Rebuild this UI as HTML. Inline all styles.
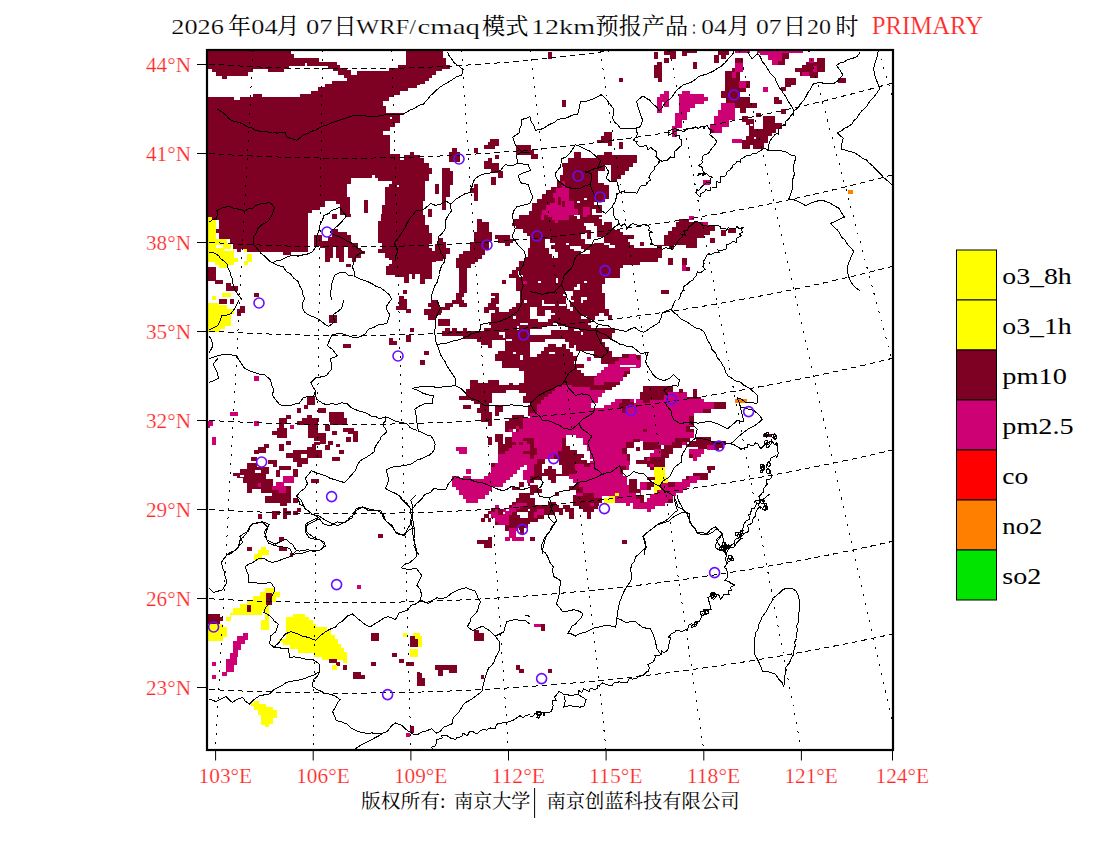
<!DOCTYPE html>
<html><head><meta charset="utf-8"><title>WRF/cmaq PRIMARY</title>
<style>
html,body{margin:0;padding:0;background:#fff;}
body{width:1100px;height:850px;overflow:hidden;font-family:"Liberation Serif","Noto Serif CJK SC",serif;}
svg{display:block}
text{font-family:"Liberation Serif","Noto Serif CJK SC",serif;}
</style></head><body>
<svg width="1100" height="850" viewBox="0 0 1100 850">
<rect width="1100" height="850" fill="#fff"/>
<defs><clipPath id="mapclip"><rect x="207" y="50" width="685" height="699"/></clipPath></defs>
<g clip-path="url(#mapclip)" shape-rendering="crispEdges">
<path fill="#7E0023" d="M200,45L420,45L420,215L200,215Z"/>
<path fill="#FFFFFF" d="M291,49L291,54L294,54L294,58L319,58L319,62L337,62L337,65L340,65L340,68L347,68L347,70L351,70L351,74.6L357,74.6L357,70.6L389,70.6L389,68L398,68L398,65L406,65L406,49ZM206,68.6L212.4,68.6L212.4,72L216,72L216,76L222,76L222,78.6L227,78.6L227,76L248,76L248,72L253,72L253,69L268,69L268,71.6L284,71.6L284,69L289,69L289,66L305,66L305,63L307,63L307,66L328,66L328,68.6L333,68.6L333,71L338,71L338,75.4L344,75.4L344,78L350,78L347,78L347,81L332,81L332,84L325,84L325,87.4L318,87.4L318,91L311,91L311,94L300,94L300,97L262,97L262,94L253,94L253,97L240,97L240,100L234,100L234,97L206,97ZM420,85L417,85L417,88L408,88L408,91.4L400,91.4L400,94.6L393,94.6L393,97.4L389,97.4L389,101L383,101L383,106L386,106L386,113L404,113L404,115L400,115L400,123L395,123L395,127L390,127L390,131L383,131L383,135L390,135L390,154L400,154L400,160L404,160L404,155L410,155L410,152L414,152L414,155L420,155ZM390,117L392,117L392,119L390,119ZM397,185L399,185L399,187L397,187ZM351,178L372,178L372,175L375,175L375,178L378,178L378,181L392,181L392,184L389,184L389,187L385,187L385,205L382,205L382,215L350,215L350,197L347,197L347,184L351,184Z"/>
<path fill="#7E0023" d="M364,200L367.6,200L367.6,213L364,213Z"/>
<path fill="#FFFFFF" d="M325,201L336,201L336,204L340,204L340,215L308,215L308,213L312,213L312,210L320,210L320,207L325,207ZM420,45L640,45L640,215L420,215Z"/>
<path fill="#7E0023" d="M420,49L443,49L443,58L446,58L446,65L450,65L450,68.6L442,68.6L442,70.6L436,70.6L436,75L432.4,75L432.4,78L429,78L429,81L425,81L425,84L420,84ZM420,158L424,158L424,163L429,163L429,168L432,168L432,174L429,174L429,181L425,181L425,201L423,201L423,215L420,215ZM442,168L450,168L450,171L453,171L453,185L450,185L450,197L446,197L446,210L442,210ZM435,184L439,184L439,194L435,194ZM428,209L432,209L432,215L428,215ZM452,148L457,148L457,152L460,152L460,162L449,162L449,152L452,152ZM474,148L478,148L478,153L474,153ZM490,139L499,139L499,146L495,146L495,149L484,149L484,145L488,145L488,142L490,142ZM495,154.6L499,154.6L499,159L495,159ZM488,158L492,158L492,163L499,163L499,170.6L503,170.6L503,178L498,178L498,173L491,173L491,169L484,169L484,161L488,161ZM491,176.6L496,176.6L496,184.6L491,184.6ZM474,184L478,184L478,201L474,201L474,193L470,193L470,188L474,188ZM516,145L531,145L531,150L534,150L534,154L538,154L538,158.6L531,158.6L531,155L516,155ZM548,52L552,52L552,58.6L548,58.6ZM619,78L623,78L623,82L619,82ZM562,100L566,100L566,107.4L562,107.4ZM604,132L612,132L612,146L608,146L608,143L597,143L597,140L601,140L601,136L604,136ZM619,142L623,142L623,148.6L619,148.6ZM574,152L581,152L581,158L597,158L597,155L604,155L604,152L612,152L612,155L637,155L637,163L633,163L633,167L629,167L629,171L625,171L625,175L621,175L621,179L617,179L617,181L611,181L611,165L605,165L605,171L598,171L598,183L604,183L604,185L609,185L609,199L605,199L605,202L594,202L594,205L602,205L602,213L596,213L596,209L592,209L592,215L529,215L529,211L532,211L532,203L537,203L537,199L542,199L542,194L546,194L546,190L551,190L551,187L557,187L557,181L560,181L560,175L563,175L563,167L562,167L562,163L568,163L568,158L574,158Z"/>
<path fill="#CD0074" d="M542,215L542,210L546,210L546,205L550,205L550,199L553,199L553,193L556,193L556,188L562,188L562,181L565,181L565,188L569,188L569,201L574,201L574,209L578,209L578,215ZM583,207L590,207L590,215L583,215Z"/>
<path fill="#7E0023" d="M550,198L555,198L555,203L550,203ZM558,197L561,197L561,205L558,205ZM562,201L565,201L565,207L562,207Z"/>
<path fill="#FFFFFF" d="M577,201L580,201L580,203L577,203ZM584,198L587,198L587,200L584,200ZM640,45L860,45L860,215L640,215Z"/>
<path fill="#7E0023" d="M654,52L658,52L658,59L654,59ZM664,49L676,49L676,58.6L670,58.6L670,55L664,55ZM664,58L669,58L669,63L664,63ZM682,49L697,49L697,53L687,53L687,56L682,56ZM657,62L662,62L662,82L658,82L658,78L654,78L654,65L657,65ZM693,62L697,62L697,69L693,69ZM714,54.6L719,54.6L719,62.6L714,62.6ZM718,49L729,49L729,55L726,55L726,58.6L721,58.6L721,54.6L718,54.6ZM735,58L743,58L743,72L740,72L740,81L750,81L750,88L746,88L746,92L740,92L740,97.4L750,97.4L750,103L757,103L757,108L746,108L746,113L740,113L740,108L735,108L735,103L726,103L726,98L721,98L721,91L725,91L725,71L732,71L732,68L735,68Z"/>
<path fill="#CD0074" d="M735,63L743,63L743,72L735,72ZM732,72L736,72L736,78L732,78ZM739,81L746,81L746,88L739,88ZM721,103L735,103L735,120L729,120L729,127L722,127L722,133L710,133L710,124L714,124L714,116L718,116L718,110L721,110Z"/>
<path fill="#7E0023" d="M710,130L714,130L714,133L710,133Z"/>
<path fill="#CD0074" d="M763,87L768,87L768,92L763,92Z"/>
<path fill="#7E0023" d="M774,97L779,97L779,100L782,100L782,104L774,104ZM781,109.4L786,109.4L786,114L781,114ZM756,113L761,113L761,116.6L756,116.6ZM785,78L796,78L796,85L791,85L791,87L786,87L786,91.4L781,91.4L781,87L785,87ZM806,62L817,62L817,58L825,58L825,72L818,72L818,78L810,78L810,76L800,76L800,72L795,72L795,68L802,68L802,65L806,65Z"/>
<path fill="#CD0074" d="M809,58L814,58L814,63L809,63ZM813,66L817,66L817,72L813,72ZM802,72L809,72L809,76L802,76Z"/>
<path fill="#7E0023" d="M838,78L846,78L846,82.6L838,82.6Z"/>
<path fill="#CD0074" d="M735,49L750,49L750,53L735,53ZM757,49L803,49L803,53L789,53L789,59L785,59L785,65L772,65L772,60L768,60L768,55L760,55L760,53L757,53Z"/>
<path fill="#7E0023" d="M782,53L789,53L789,59L785,59L785,65L778,65L778,61L782,61ZM742,116L748,116L748,119L754,119L754,129L763,129L763,116L775,116L775,123L782,123L782,129L776,129L776,133L772,133L772,136L768,136L768,143L764,143L764,149L753,149L753,145L750,145L750,149L742,149L742,143L739,143L739,140L746,140L746,136L749,136L749,125L746,125L746,122L742,122Z"/>
<path fill="#FFFFFF" d="M750,124L753,124L753,126L750,126ZM754,137L756,137L756,139L754,139Z"/>
<path fill="#CD0074" d="M732,139L742,139L742,143L732,143ZM703,180L710,180L710,185L703,185Z"/>
<path fill="#FF7F00" d="M848,190L853,190L853,194L848,194Z"/>
<path fill="#CD0074" d="M664,91L669,91L669,107L664,107L664,102L662,102L662,113L657,113L657,97L660,97L660,94L664,94ZM682,91L690,91L690,94L704,94L704,97L708,97L708,101L704,101L704,104L695,104L695,108L690,108L690,112L687,112L687,120L682,120L682,128L677,128L677,137L672,137L672,126L675,126L675,113L679,113L679,94L682,94Z"/>
<path fill="#FFFFFF" d="M200,215L420,215L420,385L200,385Z"/>
<path fill="#7E0023" d="M208,214L308,214L308,251.5L291,251.5L291,254.5L283,254.5L283,251.5L247,251.5L247,249L241,249L241,251.5L237,251.5L237,248.5L232.5,248.5L232.5,244L230,244L230,238.5L219,238.5L219,233L215,233L215,229L219,229L219,219.5L208,219.5Z"/>
<path fill="#FFFF00" d="M208,217L212,217L212,220L216,220L216,239L227,239L227,244L231,244L231,248.5L234,248.5L234,258L238,258L238,261.5L234,261.5L234,264.5L227,264.5L227,267.5L219,267.5L219,264.5L215,264.5L215,262L208,262Z"/>
<path fill="#FFFFFF" d="M216,245L223,245L223,248L216,248ZM223.5,249L233,249L233,251L223.5,251Z"/>
<path fill="#FFFF00" d="M244,249L247,249L247,251.5L244,251.5ZM247,254L252,254L252,261.5L248,261.5L248,264.5L244,264.5L244,261L247,261Z"/>
<path fill="#7E0023" d="M208,267L216,267L216,280L223,280L223,284L215,284L215,281L208,281ZM226,283L231,283L231,286L238,286L238,291L226,291ZM254,293L259,293L259,297L254,297Z"/>
<path fill="#FFFF00" d="M222,293L231,293L231,297L222,297ZM212,296L216,296L216,300L212,300Z"/>
<path fill="#7E0023" d="M219,299L227,299L227,304L219,304ZM230,299L234,299L234,304L230,304ZM240,306L245,306L245,313L241,313L241,316L237,316L237,309L240,309Z"/>
<path fill="#FFFF00" d="M208,303L219,303L219,305L227,305L227,309L234,309L234,314L231,314L231,326L225,326L225,329L220,329L220,332L208,332Z"/>
<path fill="#7E0023" d="M332,214L337,214L337,219.4L332,219.4ZM346,214L351,214L351,217L346,217ZM314,235L322,235L322,241L328,241L328,237L332,237L332,229L338,229L338,232L347,232L347,235L351,235L351,243L358,243L358,248L361,248L361,251L365,251L365,254L361,254L361,258L356,258L356,262L352,262L352,258L348,258L348,247L344,247L344,262L339,262L339,258L336,258L336,247L333,247L333,258L330,258L330,262L325,262L325,248L320,248L320,246L314,246ZM346,264L351,264L351,267.4L346,267.4ZM381,214L420,214L420,274L415,274L415,279L412,279L412,274L409,274L409,283L404,283L404,277L395,277L395,275L386,275L386,266L389,266L389,258L385,258L385,253L378,253L378,249L382,249L382,243L378,243L378,221L381,221Z"/>
<path fill="#FFFFFF" d="M389,260L392,260L392,264L389,264Z"/>
<path fill="#7E0023" d="M403,290L407,290L407,294L403,294ZM399,296L404,296L404,299L407,299L407,309L411,309L411,313L406,313L406,310L396,310L396,306L399,306ZM410,328L414,328L414,332L410,332ZM406,334.6L411,334.6L411,342L406,342ZM389,338L393,338L393,341L397,341L397,345L389,345ZM343,344L351,344L351,347.6L343,347.6ZM329,315L337,315L337,323L329,323Z"/>
<path fill="#CD0074" d="M254.4,376L259,376L259,380.6L254.4,380.6Z"/>
<path fill="#FFFFFF" d="M420,215L640,215L640,385L420,385Z"/>
<path fill="#7E0023" d="M420,214.5L425,214.5L425,225L429,225L429,233L432,233L432,244L429,244L429,248L432,248L432,251L435,251L435,244L438,244L438,238L443,238L443,242L446,242L446,248L450,248L450,254L446,254L446,259L443,259L443,260.5L436,260.5L436,262L432,262L432,279L425,279L425,284L420,284ZM428,214.5L432,214.5L432,216.8L428,216.8ZM477,219L482,219L482,222L489,222L489,232L492,232L492,241L489,241L489,250L485,250L485,254.5L482,254.5L482,258.5L478,258.5L478,262L475,262L475,264L471,264L471,268L467,268L467,293L464,293L464,297L462,297L462,300L456,300L456,293L459,293L459,268L456,268L456,258L459,258L459,254L463,254L463,251L470,251L470,242L474,242L474,232L477,232ZM495,235L510,235L510,238.5L513,238.5L513,242.5L510,242.5L510,246L505,246L505,242.5L498,242.5L498,239L495,239ZM502,280L506,280L506,284L502,284ZM491,293L499,293L499,300L491,300L491,298L495,298L495,296L491,296ZM519,214.5L530,214.5L530,236L527,236L527,232.5L523,232.5L523,229L516,229L516,226L512,226L512,222.5L514,222.5L514,219L519,219ZM530,248L527.5,248L527.5,257L525,257L525,261L519,261L519,267L516,267L516,270L512,270L512,274L509,274L509,278L516,278L516,291L520,291L520,300L530,300Z"/>
<path fill="#FFFFFF" d="M517.5,271L519,271L519,275L517.5,275ZM519,275L523,275L523,277L519,277Z"/>
<path fill="#CD0074" d="M523,281L527,281L527,284L523,284Z"/>
<path fill="#7E0023" d="M431,299.5L436.5,299.5L436.5,303L439,303L439,306.5L445,306.5L445,303L452,303L452,299.5L464,299.5L464,303L467,303L467,306.5L459,306.5L459,304L453,304L453,306.5L450,306.5L450,310L441.5,310L441.5,313L441,313L441,315L436,315L436,319.5L428,319.5L428,315L424,315L424,309L431,309L431,307L428,307L428,303L431,303ZM438,319L450,319L450,325.5L438,325.5ZM484,306.5L488,306.5L488,303L491,303L491,299.5L530,299.5L530,385L519,385L519,383L524,383L524,371L519,371L519,368L502,368L502,361L495,361L495,354L498,354L498,351L505,351L505,340L492,340L492,348L488,348L488,345L481,345L481,342L477,342L477,338.5L463,338.5L463,336L442,336L442,331L445,331L445,328L450,328L450,330.5L452,330.5L452,328L457,328L457,330.5L463,330.5L463,328L467,328L467,331L484,331L484,328L491,328L491,325L489,325L489,323L491,323L491,313L495,313L495,310L489,310L489,313L484,313Z"/>
<path fill="#FFFFFF" d="M499,299.5L520,299.5L520,303L516,303L516,306.5L512,306.5L512,309L509,309L509,312L499,312L499,306.5L496,306.5L496,304L499,304ZM524,299.5L527,299.5L527,303L524,303ZM513,316L516,316L516,319L513,319ZM520,322.5L527.5,322.5L527.5,325L520,325ZM517,326L519,326L519,330L517,330ZM499,332L505,332L505,338L503,338L503,335L499,335ZM506,339L512,339L512,341L506,341ZM513,352L516,352L516,354L513,354ZM520,355L523,355L523,360L520,360Z"/>
<path fill="#7E0023" d="M470,380L478,380L478,383L488,383L488,380L499,380L499,385L470,385ZM509,383L513,383L513,385L509,385ZM424,351L429,351L429,355L424,355ZM420,360L425,360L425,365L420,365ZM530,215L640,215L640,300L530,300Z"/>
<path fill="#FFFFFF" d="M602,214.5L602,217L598.5,217L598.5,219L602,219L602,225L604,225L604,222L612,222L612,229L615,229L615,230L620,230L620,232L623,232L623,235L634,235L634,238.5L627.5,238.5L627.5,241.5L630,241.5L630,244.5L634,244.5L634,248L640,248L640,214.5ZM584,223L594,223L594,226L584,226ZM586,226L596.5,226L596.5,230L586,230ZM581,232.5L587,232.5L587,239L581,239ZM591,230L596.5,230L596.5,239L591,239ZM584.5,239L594,239L594,243.5L584.5,243.5ZM592,236.5L604,236.5L604,242.5L592,242.5ZM604,242.5L610,242.5L610,245L604,245ZM609,245L615,245L615,248L609,248ZM570,246L581,246L581,248.5L570,248.5ZM574,248.5L584,248.5L584,250.5L574,250.5ZM581,249.5L590,249.5L590,254L581,254ZM566,243L569,243L569,245L566,245ZM545,239L550,239L550,243L555,243L555,245L551,245L551,249L555,249L555,252L558,252L558,258L552,258L552,254L549,254L549,247.5L545,247.5ZM538,281L541,281L541,283L538,283ZM556,278L558,278L558,283L556,283ZM584,281L587,281L587,283L584,283ZM577,284L580,284L580,289.5L574,289.5L574,287L577,287ZM563,294L565,294L565,291L573,291L573,296L571,296L571,300L566,300L566,296L563,296ZM581,297L587,297L587,300L581,300ZM640,265L623,265L623,268L620,268L620,277.5L605,277.5L605,284L602,284L602,293L605,293L605,300L640,300Z"/>
<path fill="#CD0074" d="M541,214.5L544,214.5L544,219.5L541,219.5ZM548,214.5L569,214.5L569,219.5L558,219.5L558,222.5L555,222.5L555,219.5L551.5,219.5L551.5,217L548,217ZM583,214.5L587,214.5L587,217L583,217Z"/>
<path fill="#FFFFFF" d="M574,214.5L580,214.5L580,218.5L577,218.5L577,216L574,216Z"/>
<path fill="#7E0023" d="M530,300L640,300L640,385L530,385Z"/>
<path fill="#FFFFFF" d="M605,299.5L605,309L609,309L609,315L612,315L612,319.5L608,319.5L608,316L604,316L604,313L599,313L599,316L595,316L595,320L591,320L591,323L588,323L588,325L591,325L591,328L615,328L615,333L612,333L612,339L602,339L602,341.5L605,341.5L605,347L609,347L609,351L612,351L612,357L622,357L622,354L636,354L636,355L640,355L640,299.5Z"/>
<path fill="#CD0074" d="M629,354L636,354L636,358L637,358L637,360L640,360L640,368L630,368L630,371L624,371L624,374L623,377L623,381L620,381L620,381.5L604,381.5L604,385L594,385L594,377L597,377L597,373L601,373L601,370L604,370L604,367L608,367L608,364L615,364L615,361L619,361L619,357.5L629,357.5Z"/>
<path fill="#FFFFFF" d="M620,365L636,365L636,367L620,367ZM630,368L640,368L640,385L620,385L620,381L623,381L623,377L627,377L627,374L630,374ZM542,299.5L544,299.5L544,304L555,304L555,306L542,306ZM559,304L566,304L566,306L559,306ZM566,299.5L574,299.5L574,302L570,302L570,307L573,307L573,311L570,311L570,309L567,309L567,304L566,304ZM581,299.5L583,299.5L583,302.5L581,302.5ZM530,307L537,307L537,315.5L545,315.5L545,310L551,310L551,313L555,313L555,315L551,315L551,318.5L548,318.5L548,322L538,322L538,319L530,319ZM530,329L542,329L542,326L553,326L553,323L558,323L558,325.5L568,325.5L568,330L551,330L551,334.5L530,334.5ZM574,329L580,329L580,331L574,331ZM581,332L583,332L583,335L581,335ZM581,316L587,316L587,319L581,319ZM530,342L545,342L545,339L565,339L565,342L569,342L569,347.5L574,347.5L574,345L576,345L576,351L594,351L594,358L601,358L601,364L608,364L608,367L604,367L604,370L601,370L601,373L597,373L597,376L584,376L584,373L581,373L581,370L577,370L577,368L584,368L584,364L574,364L574,361L577,361L577,356L573,356L573,352L570,352L570,349L566,349L566,344L562,344L562,347L556,347L556,344L548,344L548,347L544,347L544,351L541,351L541,354L537,354L537,357L530,357ZM549,352L555,352L555,354L549,354Z"/>
<path fill="#CD0074" d="M587,357L591,357L591,361L587,361Z"/>
<path fill="#FFFFFF" d="M640,215L860,215L860,385L640,385Z"/>
<path fill="#7E0023" d="M679,219L689,219L689,222L704,222L704,225L715,225L715,231L710,231L710,235L704,235L704,238L697,238L697,248L686,248L686,245L674,245L674,249L669,249L669,246L662,246L662,258L658,258L658,262L640,262L640,248L657,248L657,245L664,245L664,235L668,235L668,231L672,231L672,227L676,227L676,222L679,222ZM640,242L644,242L644,246L640,246ZM710,238L715,238L715,243L710,243ZM721,230L726,230L726,236L721,236ZM728,228.6L736,228.6L736,232.6L728,232.6ZM668,258L673,258L673,264.6L668,264.6ZM682,258L687,258L687,265L682,265Z"/>
<path fill="#CD0074" d="M682,265L686,265L686,271L682,271Z"/>
<path fill="#7E0023" d="M686,267L690,267L690,271L686,271ZM661,290L669,290L669,294L661,294Z"/>
<path fill="#CD0074" d="M689,216L694,216L694,220L689,220ZM703,222L708,222L708,226L703,226ZM640,355L641,355L641,367L640,367Z"/>
<path fill="#FFFFFF" d="M200,385L420,385L420,555L200,555Z"/>
<path fill="#7E0023" d="M307,396L315,396L315,405L307,405ZM304,405L308,405L308,408.6L304,408.6ZM297,408L301,408L301,412.6L297,412.6ZM318,408L326,408L326,412.6L318,412.6ZM325,425L330,425L330,431L325,431ZM332,431L337,431L337,434.6L332,434.6ZM346,436.6L351,436.6L351,442L346,442ZM286,415L291,415L291,419L286,419ZM286,441L291,441L291,445L286,445ZM279,444L284,444L284,451L279,451ZM264,444L269,444L269,448L264,448ZM251,457L257,457L257,461L251,461ZM328,441L333,441L333,445L328,445ZM325,445L330,445L330,450L325,450ZM336,444L340,444L340,447.4L336,447.4ZM339,450L344,450L344,454L339,454ZM332,457L340,457L340,460.6L332,460.6ZM293,469L298,469L298,477L293,477ZM311,479L319,479L319,483L311,483ZM293,498L298,498L298,503L293,503ZM258,514L262,514L262,518.6L258,518.6ZM279,537L284,537L284,541L279,541ZM247,547L252,547L252,551L247,551ZM279,547L287,547L287,551L279,551ZM290,553L294,553L294,555L290,555ZM378,534L383,534L383,538L378,538ZM329,412L344,412L344,418L347,418L347,425L330,425L330,422L329,422ZM343,428L354,428L354,431L358,431L358,442L353,442L353,434L348,434L348,432L343,432ZM297,421L302,421L302,418L307,418L307,415L312,415L312,418L319,418L319,422L318,422L318,433L326,433L326,444L320,444L320,441L314,441L314,438L308,438L308,425L297,425ZM279,418L287,418L287,424L284,424L284,428L287,428L287,438L277,438L277,435L272,435L272,431L277,431L277,428L279,428ZM258,447L266,447L266,453L259,453L259,454L254,454L254,450L258,450ZM314,442L320,442L320,445L316,445L316,450L322,450L322,458L308,458L308,464L302,464L302,467L297,467L297,462L293,462L293,458L286,458L286,453L293,453L293,450L307,450L307,447L312,447L312,444L314,444Z"/>
<path fill="#FFFFFF" d="M301,454L307,454L307,458L301,458Z"/>
<path fill="#7E0023" d="M268,460L277,460L277,467L273,467L273,464L268,464ZM279,466L291,466L291,470L280,470L280,477L276,477L276,470L279,470ZM247,463L257,463L257,467L269,467L269,474L266,474L266,479L273,479L273,487L286,487L286,486L291,486L291,503L287,503L287,506L280,506L280,503L269,503L265,503L265,496L272,496L272,493L261,493L261,489L252,489L252,493L247,493L247,483L243,483L243,478L237,478L237,476L233,476L233,473L240,473L240,469L247,469Z"/>
<path fill="#FFFFFF" d="M255,470L261,470L261,473L255,473ZM240,475L244,475L244,477L240,477Z"/>
<path fill="#CD0074" d="M258,483L261,483L261,486.6L258,486.6ZM276,482L284,482L284,486L286,486L286,493L279,493L279,490L272,490L272,486L276,486ZM283,476L294,476L294,482.6L283,482.6Z"/>
<path fill="#7E0023" d="M272,511L280,511L280,515L277,515L277,518.6L272,518.6ZM283,508L287,508L287,511L291,511L291,515L287,515L287,518.6L283,518.6ZM293,511L297,511L297,508L301,508L301,512L298,512L298,515L293,515Z"/>
<path fill="#FFFF00" d="M261,547L266,547L266,550L269,550L269,555L258,555L258,550L261,550Z"/>
<path fill="#CD0074" d="M230,412L238,412L238,416L230,416ZM208,421L213,421L213,426L208,426ZM208,426L210,426L210,428L208,428ZM254,421L259,421L259,426L254,426ZM290,425L294,425L294,428.6L290,428.6ZM212,437L216,437L216,445L212,445Z"/>
<path fill="#FFFFFF" d="M420,385L640,385L640,555L420,555Z"/>
<path fill="#7E0023" d="M470,384.5L530,384.5L530,403L523,403L523,396L526,396L526,393L519,393L519,389.5L506,389.5L506,393L492,393L492,403L489,403L489,412L492,412L492,425.5L488,425.5L488,421.5L481,421.5L481,413L477,413L477,408L480,408L480,404L474,404L474,401L471,401L471,400L467,400L467,396L466,396L466,389L470,389ZM459,396L467,396L467,400L459,400ZM463,405L471,405L471,408.8L463,408.8ZM495,405L503,405L503,412L499,412L499,415.5L495,415.5ZM527.5,405L530,405L530,416L527.5,416Z"/>
<path fill="#CD0074" d="M524,418L530,418L530,470L491,470L491,467L495,467L495,463L498,463L498,454L505,454L505,450.5L509,450.5L509,447.5L512,447.5L512,445L516,445L516,442L512,442L512,432L519,432L519,429L523,429L523,418Z"/>
<path fill="#7E0023" d="M512,415L524,415L524,418L523,418L523,429L519,429L519,426L516,426L516,429L509,429L509,432L505,432L505,421L509,421L509,418L512,418Z"/>
<path fill="#CD0074" d="M509,429L513,429L513,432L509,432Z"/>
<path fill="#FFFFFF" d="M513,429L516,429L516,431L513,431Z"/>
<path fill="#CD0074" d="M516,426L519,426L519,429L516,429Z"/>
<path fill="#7E0023" d="M516,429L519,429L519,432L516,432ZM488,437L492,437L492,444.5L488,444.5ZM495,434L503,434L503,444L505,444L505,437L512,437L512,442L516,442L516,445L512,445L512,447.5L509,447.5L509,450.5L505,450.5L505,454L498,454L498,442L495,442ZM523,438L530,438L530,444L527,444L527,441L523,441ZM519,442L523,442L523,444.5L519,444.5ZM523,451L530,451L530,454L523,454ZM491,463L495,463L495,467L491,467Z"/>
<path fill="#FFFFFF" d="M520,467L524,467L524,464.5L527,464.5L527,470L520,470Z"/>
<path fill="#CD0074" d="M456,447L467,447L467,454L459,454L459,450.5L456,450.5ZM466,469L471,469L471,470L466,470ZM530,385L640,385L640,470L530,470Z"/>
<path fill="#7E0023" d="M530,384.5L562,384.5L562,387L555,387L555,390.5L552,390.5L552,393.5L548,393.5L548,397L544,397L544,400L541,400L541,404L537,404L537,412.5L530,412.5ZM572,384.5L616,384.5L616,387L572,387ZM590,387L612,387L612,389.5L590,389.5Z"/>
<path fill="#FFFFFF" d="M616,384.5L640,384.5L640,399L636,399L636,402.5L634,402.5L634,399L615,399L615,402L611,402L611,405L604,405L604,408L591,408L591,403L598,403L598,397L602,397L602,393L605,393L605,389.5L612,389.5L612,387L616,387Z"/>
<path fill="#7E0023" d="M622,399L630,399L630,402L634,402L634,406L626,406L626,413L622,413L622,408L619,408L619,403L622,403Z"/>
<path fill="#FFFFFF" d="M566,435L576,435L576,437.5L583,437.5L583,445L587,445L587,451L590,451L590,458.5L594,458.5L594,461L590,461L590,463L587,463L587,460L581,460L581,458L584,458L584,454L577,454L577,450L570,450L570,446L566,446Z"/>
<path fill="#7E0023" d="M562,438L566,438L566,446L570,446L570,450L577,450L577,454L584,454L584,458L581,458L581,460L587,460L587,463L594,463L594,464L590,464L590,467L584,467L584,464L575,464L575,470L562,470L562,465L559,465L559,455L558,455L558,451L562,451ZM530,438L534,438L534,448L537,448L537,455L534,455L534,458.5L530,458.5ZM537,458.5L545,458.5L545,464L542,464L542,470L534,470L534,464L537,464Z"/>
<path fill="#FFFFFF" d="M545,458.5L559,458.5L559,465L562,465L562,470L542,470L542,464L545,464Z"/>
<path fill="#7E0023" d="M548,466L552,466L552,468.5L556,468.5L556,470L544,470L544,468.5L548,468.5ZM554,455L558.5,455L558.5,458.5L554,458.5Z"/>
<path fill="#FFFFFF" d="M634,442L640,442L640,470L629,470L629,465L630,465L630,454L627,454L627,448L634,448Z"/>
<path fill="#7E0023" d="M633,439L640,439L640,442L634,442L634,448L627,448L627,454L630,454L630,461L627,461L627,454L622,454L622,448L626,448L626,442L633,442ZM636,447L640,447L640,451L636,451ZM636,460L640,460L640,464L636,464ZM620,466L626,466L626,470L620,470Z"/>
<path fill="#FFFFFF" d="M420,470L530,470L530,555L420,555Z"/>
<path fill="#CD0074" d="M466,469.5L471,469.5L471,474L466,474ZM491,469.5L517,469.5L517,474L513,474L513,477L510,477L510,480L506,480L506,483L503,483L503,486.5L492,486.5L492,491L489,491L489,495L485,495L485,499L478,499L478,503L466,503L466,499L463,499L463,495L459,495L459,490L456,490L456,486.5L452,486.5L452,476L459,476L459,479L463,479L463,476L471,476L471,479L484,479L484,476L488,476L488,473L491,473ZM523,469.5L530,469.5L530,483L527,483L527,480L523,480Z"/>
<path fill="#7E0023" d="M519,482L524,482L524,486.5L520,486.5L520,490L512,490L512,486.5L519,486.5ZM528,483L530,483L530,486L528,486Z"/>
<path fill="#CD0074" d="M491,512L495,512L495,505L499,505L499,508.5L506,508.5L506,511L509,511L509,508L512,508L512,505L516,505L516,503L527,503L527,506L520,506L520,508.5L516,508.5L516,512L512,512L512,515L509,515L509,524.5L498,524.5L498,522L495,522L495,518L491,518Z"/>
<path fill="#7E0023" d="M519,493L530,493L530,524L527.5,524L527.5,528L509,528L509,531L505,531L505,525L509,525L509,515L512,515L512,512L516,512L516,508.5L520,508.5L520,506L527,506L527,503L516,503L516,505L512,505L512,502L516,502L516,498L519,498ZM509,505L512,505L512,508L509,508Z"/>
<path fill="#FFFFFF" d="M517,512L527.5,512L527.5,514.5L517,514.5ZM520,514.5L527.5,514.5L527.5,518L520,518ZM528,509L530,509L530,511L528,511Z"/>
<path fill="#7E0023" d="M491,508L495,508L495,512L491,512ZM498,508.5L503,508.5L503,514.5L498,514.5ZM488,511L491,511L491,514L488,514ZM484,514L489,514L489,518L484,518ZM481,518L485,518L485,522L481,522ZM488,518L491,518L491,522L488,522ZM495,522L498,522L498,524.5L495,524.5Z"/>
<path fill="#FFFFFF" d="M503,512L505,512L505,514L503,514Z"/>
<path fill="#CD0074" d="M509,528L517,528L517,531L516,531L516,537L524,537L524,541L512,541L512,538L510,538L510,541L505,541L505,537L509,537Z"/>
<path fill="#7E0023" d="M519,528L524,528L524,534L520,534L520,530L519,530ZM488,537L492,537L492,548L484,548L484,544L477,544L477,540L488,540Z"/>
<path fill="#FFFFFF" d="M530,470L640,470L640,555L530,555Z"/>
<path fill="#CD0074" d="M576,469.5L620,469.5L620,474L623,474L623,476L627,476L627,485L629,485L629,493L636,493L636,496L640,496L640,509L633,509L633,503L630,503L630,506L626,506L626,503L615,503L615,496L602,496L602,498L594,498L594,493L583,493L583,486.5L579,486.5L579,483L573,483L573,479L569,479L569,474L576,474Z"/>
<path fill="#FFFFFF" d="M602,496L608,496L608,498L602,498Z"/>
<path fill="#FFFF00" d="M604,498L609,498L609,496.2L615,496.2L615,503L604,503ZM615,493L619,493L619,496L615,496Z"/>
<path fill="#7E0023" d="M629,479L637,479L637,489L640,489L640,493L629,493ZM636,496L640,496L640,499L636,499ZM620,469.5L623,469.5L623,474L620,474ZM573,495L576,495L576,496L583,496L583,493L594,493L594,498L602,498L602,503L599,503L599,506L598,506L598,509L594,509L594,512L591,512L591,519L587,519L587,512L583,512L583,509L579,509L579,506L573,506Z"/>
<path fill="#CD0074" d="M576,493L583,493L583,496L576,496ZM590,503L594,503L594,506L590,506Z"/>
<path fill="#7E0023" d="M534,469.5L542,469.5L542,473L544,473L544,469.5L556,469.5L556,474L562,474L562,469.5L576,469.5L576,474L569,474L569,476L556,476L556,483L551,483L551,480L548,480L548,476L542,476L542,480L534,480L534,483L530,483L530,476L534,476Z"/>
<path fill="#CD0074" d="M530,469.5L534,469.5L534,476L530,476Z"/>
<path fill="#7E0023" d="M530,485L538,485L538,489L542,489L542,493L534,493L534,495L530,495ZM569,486L576,486L576,483L579,483L579,486.5L583,486.5L583,493L576,493L576,490L569,490ZM555,492L559,492L559,496L555,496ZM530,498L535,498L535,505L548,505L548,502L556,502L556,505L559,505L559,508L563,508L563,505L570,505L570,508L574,508L574,519L569,519L569,512L565,512L565,509L563,509L563,515L559,515L559,512L555,512L555,515L544,515L544,519L538,519L538,522L530,522Z"/>
<path fill="#CD0074" d="M537,509L544,509L544,515L537,515L537,518L534,518L534,512L537,512Z"/>
<path fill="#7E0023" d="M530,537L535,537L535,541L530,541ZM622,540L627,540L627,544L622,544Z"/>
<path fill="#FFFFFF" d="M640,385L860,385L860,555L640,555Z"/>
<path fill="#7E0023" d="M640,392L643,392L643,386L673,386L673,392L668,392L668,395L664,395L664,400L650,400L650,403L643,403L643,400L640,400Z"/>
<path fill="#CD0074" d="M640,400L643,400L643,403L650,403L650,400L664,400L664,395L668,395L668,392L687,392L687,396.5L701,396.5L701,399L704,399L704,402L714,402L714,409L703,409L703,413L694,413L694,438L675,438L675,442L672,442L672,445L661,445L658,445L658,442L643,442L643,441L640,441Z"/>
<path fill="#7E0023" d="M679,389L683,389L683,392.5L679,392.5ZM693,389L697,389L697,396.5L701,396.5L701,399L687,399L687,396.5L693,396.5ZM714,402L726,402L726,409L714,409ZM703,409L711,409L711,413L703,413ZM689,416L694,416L694,425L689,425ZM686,426L694,426L694,432L686,432Z"/>
<path fill="#FFFFFF" d="M690,427L694,427L694,429L690,429Z"/>
<path fill="#7E0023" d="M643,429L647,429L647,432L643,432ZM643,442L658,442L658,445L661,445L661,449L654,449L654,450L643,450ZM661,449L664,449L664,445L672,445L672,442L675,442L675,438L690,438L690,441L696,441L696,437L711,437L711,441L726,441L726,445L723,445L723,450L714,450L714,445L707,445L707,449L698,449L698,447L686,447L686,444L682,444L682,448L673,448L673,454L669,454L669,458L665,458L665,467L654,467L654,470L650,470L650,467L647,467L647,464L640,464L640,460L644,460L644,457L661,457Z"/>
<path fill="#CD0074" d="M654,449L661,449L661,457L650,457L650,453L654,453ZM647,458L650,458L650,461L647,461ZM650,464L654,464L654,467L650,467ZM682,442L686,442L686,445L682,445Z"/>
<path fill="#FFFFFF" d="M687,442L689,442L689,444L687,444Z"/>
<path fill="#CD0074" d="M707,445L714,445L714,450L707,450ZM689,449L704,449L704,454L701,454L701,457L697,457L697,461L693,461L693,454L689,454Z"/>
<path fill="#7E0023" d="M689,454L693,454L693,458L689,458Z"/>
<path fill="#FFFFFF" d="M719,447.5L722,447.5L722,449.5L719,449.5Z"/>
<path fill="#7E0023" d="M707,466L715,466L715,470L707,470Z"/>
<path fill="#FF7F00" d="M735,399L747,399L747,403L735,403Z"/>
<path fill="#FFFFFF" d="M640,470L750,470L750,555L640,555Z"/>
<path fill="#CD0074" d="M640,482L682,482L682,479L686,479L686,476L693,476L700,476L700,480L697,480L697,483L690,483L690,486.5L687,486.5L687,490L683,490L683,493L676,493L676,496L673,496L673,503L665,503L665,506L655,506L655,509L651,509L651,512L647,512L647,509L640,509Z"/>
<path fill="#FFFFFF" d="M641,490L651,490L651,487L654,487L654,494L650,494L650,498L647,498L647,502L644,502L644,495L641,495Z"/>
<path fill="#FFFF00" d="M654,469.5L665,469.5L665,477L668,477L668,483L661,483L661,490L657,490L657,493L654,493Z"/>
<path fill="#7E0023" d="M647,476.5L655,476.5L655,480L647,480ZM647,482L654,482L654,487L651,487L651,489.5L647,489.5ZM640,495L644,495L644,503L640,503ZM668,482L675,482L675,487L668,487ZM668,499L673,499L673,503L668,503ZM686,476L689,476L689,480L686,480ZM693,473L708,473L708,469.5L711,469.5L711,473L708,473L708,480L700,480L700,476L693,476ZM763,434L772,434L772,437.4L763,437.4Z"/>
<path fill="#FFFF00" d="M654,467L665,467L665,470.5L654,470.5Z"/>
<path fill="#FFFFFF" d="M200,555L420,555L420,725L200,725Z"/>
<path fill="#FFFF00" d="M254,554L262,554L262,560L254,560ZM265,588L275,588L275,592L280,592L280,597L276,597L276,602L269,602L269,611L262,611L262,615L231,615L231,621L226,621L226,617L230,617L230,613L233,613L233,608L240,608L240,604L247,604L247,600L253,600L253,596L260,596L260,592L265,592ZM265,611L269,611L269,630L261,630L261,620L265,620Z"/>
<path fill="#7E0023" d="M266,593L272,593L272,605L266,605ZM247,604.6L251,604.6L251,612L247,612Z"/>
<path fill="#FFFF00" d="M208,624L223,624L223,627L227,627L227,637L223,637L223,641L208,641Z"/>
<path fill="#7E0023" d="M208,614L220,614L220,617L223,617L223,621L220,621L220,624L208,624Z"/>
<path fill="#FFFF00" d="M293,614L305,614L305,617L309,617L309,620L313,620L313,624L316,624L316,627L327,627L327,630L331,630L331,635L335,635L335,639L338,639L338,644L341,644L341,648L344,648L344,652L347,652L347,663L343,663L343,660L322,660L322,657L314,657L314,653L298,653L298,649L290,649L290,645L283,645L283,642L279,642L279,639L286,639L286,617L293,617Z"/>
<path fill="#7E0023" d="M329,659L337,659L337,662L340,662L340,666L336,666L336,663L329,663ZM343,664.6L347,664.6L347,670L343,670Z"/>
<path fill="#FFFF00" d="M332,665L337,665L337,670L332,670ZM254,701L259,701L259,704L266,704L266,707L273,707L273,710L277,710L277,718L273,718L273,723L269,723L269,725L261,725L261,715L258,715L258,710L254,710L254,706L251,706L251,703L254,703ZM403,633L407,633L407,637L403,637ZM413,633L420,633L420,647L413,647ZM410,649L418,649L418,657L410,657Z"/>
<path fill="#7E0023" d="M410,636L415,636L415,639L418,639L418,647L410,647ZM290,554L293,554L293,557L290,557ZM371,633L379,633L379,641L371,641ZM392,652.6L397,652.6L397,657L392,657ZM399,659L404,659L404,663L399,663ZM406,662L414,662L414,666L406,666ZM371,662L376,662L376,666L371,666ZM417,672L420,672L420,686L417,686ZM353,672L361,672L361,675L365,675L365,679L353,679Z"/>
<path fill="#CD0074" d="M357,585L361,585L361,589L357,589ZM212,662L216,662L216,666L212,666ZM212,675L216,675L216,679L212,679ZM243,633L248,633L248,640L245,640L245,644L241,644L241,650L238,650L238,657L237,657L237,665L234,665L234,672L227,672L227,676L222,676L222,672L226,672L226,659L230,659L230,653L233,653L233,641L237,641L237,636L243,636Z"/>
<path fill="#FFFFFF" d="M420,555L640,555L640,725L420,725Z"/>
<path fill="#7E0023" d="M474,630L479,630L479,633L484,633L484,641L474,641ZM435,665L457,665L457,673L449,673L449,670L443,670L443,676L438,676L438,670L435,670ZM420,673L422,673L422,678L425,678L425,686L420,686ZM481,675L484,675L484,679L481,679ZM516,665L520,665L520,669L524,669L524,673L519,673L519,670L516,670ZM548,669L552,669L552,673L548,673Z"/>
<path fill="#CD0074" d="M534,624L542,624L542,627.4L534,627.4Z"/>
<path fill="#7E0023" d="M541,624L545,624L545,631L541,631Z"/>
<path fill="#FFFF00" d="M420,636L421.6,636L421.6,647L420,647ZM261,714L277,714L277,718L273,718L273,724L269,724L269,727L265,727L265,724L261,724Z"/>
<path fill="#7E0023" d="M410,726L414,726L414,733L410,733Z"/>
<path fill="#CD0074" d="M406,733L410,733L410,737L406,737Z"/>
<path fill="#7E0023" d="M417,679L420,679L420,685L417,685Z"/>
</g>
<g clip-path="url(#mapclip)" fill="none" stroke="#000" stroke-width="1" shape-rendering="crispEdges"><path d="M200,688.9L206,689.3L212,689.6L218,689.9L224,690.2L230,690.5L236,690.7L242,691.0L248,691.2L254,691.4L260,691.6L266,691.8L272,692.0L278,692.2L284,692.3L290,692.5L296,692.6L302,692.7L308,692.8L314,692.9L320,693.0L326,693.0L332,693.1L338,693.1L344,693.1L350,693.1L356,693.1L362,693.1L368,693.0L374,692.9L380,692.9L386,692.8L392,692.7L398,692.6L404,692.4L410,692.3L416,692.1L422,692.0L428,691.8L434,691.6L440,691.4L446,691.2L452,690.9L458,690.7L464,690.4L470,690.1L476,689.8L482,689.5L488,689.2L494,688.8L500,688.5L506,688.1L512,687.7L518,687.3L524,686.9L530,686.5L536,686.0L542,685.6L548,685.1L554,684.6L560,684.1L566,683.6L572,683.1L578,682.6L584,682.0L590,681.4L596,680.9L602,680.3L608,679.7L614,679.0L620,678.4L626,677.7L632,677.1L638,676.4L644,675.7L650,675.0L656,674.3L662,673.5L668,672.8L674,672.0L680,671.2L686,670.4L692,669.6L698,668.8L704,667.9L710,667.1L716,666.2L722,665.3L728,664.4L734,663.5L740,662.6L746,661.6L752,660.7L758,659.7L764,658.7L770,657.7L776,656.7L782,655.7L788,654.6L794,653.6L800,652.5L806,651.4L812,650.3L818,649.2L824,648.0L830,646.9L836,645.7L842,644.6L848,643.4L854,642.2L860,640.9L866,639.7L872,638.4L878,637.2L884,635.9L890,634.6L896,633.3" stroke-dasharray="5.5,4"/><path d="M200,598.3L206,598.6L212,598.9L218,599.3L224,599.6L230,599.9L236,600.1L242,600.4L248,600.6L254,600.9L260,601.1L266,601.3L272,601.5L278,601.7L284,601.8L290,602.0L296,602.1L302,602.2L308,602.3L314,602.4L320,602.5L326,602.5L332,602.6L338,602.6L344,602.6L350,602.6L356,602.6L362,602.5L368,602.5L374,602.4L380,602.4L386,602.3L392,602.2L398,602.1L404,601.9L410,601.8L416,601.6L422,601.4L428,601.2L434,601.0L440,600.8L446,600.6L452,600.3L458,600.1L464,599.8L470,599.5L476,599.2L482,598.9L488,598.5L494,598.2L500,597.8L506,597.4L512,597.0L518,596.6L524,596.2L530,595.7L536,595.3L542,594.8L548,594.3L554,593.8L560,593.3L566,592.8L572,592.2L578,591.7L584,591.1L590,590.5L596,589.9L602,589.3L608,588.7L614,588.0L620,587.4L626,586.7L632,586.0L638,585.3L644,584.6L650,583.8L656,583.1L662,582.3L668,581.5L674,580.7L680,579.9L686,579.1L692,578.2L698,577.4L704,576.5L710,575.6L716,574.7L722,573.8L728,572.9L734,571.9L740,570.9L746,570.0L752,569.0L758,568.0L764,566.9L770,565.9L776,564.9L782,563.8L788,562.7L794,561.6L800,560.5L806,559.3L812,558.2L818,557.0L824,555.9L830,554.7L836,553.5L842,552.2L848,551.0L854,549.7L860,548.5L866,547.2L872,545.9L878,544.6L884,543.2L890,541.9L896,540.5" stroke-dasharray="5.5,4"/><path d="M200,509.1L206,509.5L212,509.8L218,510.1L224,510.5L230,510.8L236,511.0L242,511.3L248,511.6L254,511.8L260,512.0L266,512.2L272,512.4L278,512.6L284,512.8L290,512.9L296,513.1L302,513.2L308,513.3L314,513.4L320,513.5L326,513.5L332,513.6L338,513.6L344,513.6L350,513.6L356,513.6L362,513.5L368,513.5L374,513.4L380,513.4L386,513.3L392,513.2L398,513.0L404,512.9L410,512.7L416,512.6L422,512.4L428,512.2L434,512.0L440,511.7L446,511.5L452,511.2L458,511.0L464,510.7L470,510.4L476,510.1L482,509.7L488,509.4L494,509.0L500,508.6L506,508.2L512,507.8L518,507.4L524,506.9L530,506.5L536,506.0L542,505.5L548,505.0L554,504.5L560,504.0L566,503.4L572,502.8L578,502.3L584,501.7L590,501.1L596,500.4L602,499.8L608,499.1L614,498.5L620,497.8L626,497.1L632,496.4L638,495.6L644,494.9L650,494.1L656,493.3L662,492.5L668,491.7L674,490.9L680,490.0L686,489.2L692,488.3L698,487.4L704,486.5L710,485.6L716,484.7L722,483.7L728,482.7L734,481.7L740,480.7L746,479.7L752,478.7L758,477.7L764,476.6L770,475.5L776,474.4L782,473.3L788,472.2L794,471.0L800,469.9L806,468.7L812,467.5L818,466.3L824,465.1L830,463.8L836,462.6L842,461.3L848,460.0L854,458.7L860,457.4L866,456.1L872,454.7L878,453.3L884,452.0L890,450.6L896,449.1" stroke-dasharray="5.5,4"/><path d="M200,419.8L206,420.2L212,420.6L218,420.9L224,421.2L230,421.5L236,421.8L242,422.1L248,422.4L254,422.6L260,422.9L266,423.1L272,423.3L278,423.5L284,423.7L290,423.8L296,423.9L302,424.1L308,424.2L314,424.3L320,424.3L326,424.4L332,424.5L338,424.5L344,424.5L350,424.5L356,424.5L362,424.4L368,424.4L374,424.3L380,424.3L386,424.2L392,424.0L398,423.9L404,423.8L410,423.6L416,423.4L422,423.2L428,423.0L434,422.8L440,422.6L446,422.3L452,422.1L458,421.8L464,421.5L470,421.1L476,420.8L482,420.5L488,420.1L494,419.7L500,419.3L506,418.9L512,418.5L518,418.0L524,417.6L530,417.1L536,416.6L542,416.1L548,415.6L554,415.0L560,414.5L566,413.9L572,413.3L578,412.7L584,412.1L590,411.5L596,410.8L602,410.2L608,409.5L614,408.8L620,408.1L626,407.3L632,406.6L638,405.8L644,405.0L650,404.2L656,403.4L662,402.6L668,401.8L674,400.9L680,400.0L686,399.1L692,398.2L698,397.3L704,396.3L710,395.4L716,394.4L722,393.4L728,392.4L734,391.4L740,390.3L746,389.3L752,388.2L758,387.1L764,386.0L770,384.9L776,383.8L782,382.6L788,381.4L794,380.2L800,379.0L806,377.8L812,376.6L818,375.3L824,374.0L830,372.8L836,371.4L842,370.1L848,368.8L854,367.4L860,366.1L866,364.7L872,363.3L878,361.8L884,360.4L890,358.9L896,357.4" stroke-dasharray="5.5,4"/><path d="M200,330.5L206,330.9L212,331.3L218,331.7L224,332.0L230,332.3L236,332.6L242,332.9L248,333.2L254,333.5L260,333.7L266,333.9L272,334.1L278,334.3L284,334.5L290,334.7L296,334.8L302,335.0L308,335.1L314,335.2L320,335.2L326,335.3L332,335.4L338,335.4L344,335.4L350,335.4L356,335.4L362,335.3L368,335.3L374,335.2L380,335.1L386,335.0L392,334.9L398,334.8L404,334.6L410,334.5L416,334.3L422,334.1L428,333.9L434,333.6L440,333.4L446,333.1L452,332.9L458,332.6L464,332.2L470,331.9L476,331.6L482,331.2L488,330.8L494,330.4L500,330.0L506,329.6L512,329.1L518,328.7L524,328.2L530,327.7L536,327.2L542,326.7L548,326.1L554,325.6L560,325.0L566,324.4L572,323.8L578,323.1L584,322.5L590,321.8L596,321.2L602,320.5L608,319.8L614,319.0L620,318.3L626,317.5L632,316.7L638,315.9L644,315.1L650,314.3L656,313.5L662,312.6L668,311.7L674,310.8L680,309.9L686,309.0L692,308.0L698,307.1L704,306.1L710,305.1L716,304.1L722,303.0L728,302.0L734,300.9L740,299.8L746,298.7L752,297.6L758,296.5L764,295.3L770,294.2L776,293.0L782,291.8L788,290.6L794,289.3L800,288.1L806,286.8L812,285.5L818,284.2L824,282.9L830,281.5L836,280.1L842,278.8L848,277.4L854,276.0L860,274.5L866,273.1L872,271.6L878,270.1L884,268.6L890,267.1L896,265.5" stroke-dasharray="5.5,4"/><path d="M200,241.7L206,242.1L212,242.5L218,242.9L224,243.3L230,243.6L236,243.9L242,244.2L248,244.5L254,244.8L260,245.0L266,245.3L272,245.5L278,245.7L284,245.9L290,246.1L296,246.2L302,246.3L308,246.5L314,246.6L320,246.6L326,246.7L332,246.8L338,246.8L344,246.8L350,246.8L356,246.8L362,246.7L368,246.7L374,246.6L380,246.5L386,246.4L392,246.3L398,246.2L404,246.0L410,245.8L416,245.6L422,245.4L428,245.2L434,245.0L440,244.7L446,244.4L452,244.1L458,243.8L464,243.5L470,243.2L476,242.8L482,242.4L488,242.0L494,241.6L500,241.2L506,240.7L512,240.3L518,239.8L524,239.3L530,238.8L536,238.2L542,237.7L548,237.1L554,236.5L560,235.9L566,235.3L572,234.7L578,234.0L584,233.4L590,232.7L596,232.0L602,231.2L608,230.5L614,229.7L620,229.0L626,228.2L632,227.4L638,226.5L644,225.7L650,224.8L656,223.9L662,223.0L668,222.1L674,221.2L680,220.2L686,219.3L692,218.3L698,217.3L704,216.2L710,215.2L716,214.1L722,213.1L728,212.0L734,210.9L740,209.7L746,208.6L752,207.4L758,206.2L764,205.0L770,203.8L776,202.6L782,201.3L788,200.0L794,198.7L800,197.4L806,196.1L812,194.7L818,193.4L824,192.0L830,190.6L836,189.2L842,187.7L848,186.3L854,184.8L860,183.3L866,181.8L872,180.2L878,178.7L884,177.1L890,175.5L896,173.9" stroke-dasharray="5.5,4"/><path d="M200,152.9L206,153.3L212,153.7L218,154.1L224,154.5L230,154.9L236,155.2L242,155.5L248,155.8L254,156.1L260,156.4L266,156.6L272,156.8L278,157.0L284,157.2L290,157.4L296,157.6L302,157.7L308,157.8L314,157.9L320,158.0L326,158.1L332,158.2L338,158.2L344,158.2L350,158.2L356,158.2L362,158.1L368,158.1L374,158.0L380,157.9L386,157.8L392,157.7L398,157.5L404,157.4L410,157.2L416,157.0L422,156.8L428,156.5L434,156.3L440,156.0L446,155.7L452,155.4L458,155.1L464,154.8L470,154.4L476,154.0L482,153.6L488,153.2L494,152.8L500,152.3L506,151.9L512,151.4L518,150.9L524,150.4L530,149.8L536,149.3L542,148.7L548,148.1L554,147.5L560,146.9L566,146.2L572,145.5L578,144.9L584,144.2L590,143.4L596,142.7L602,141.9L608,141.2L614,140.4L620,139.6L626,138.7L632,137.9L638,137.0L644,136.1L650,135.2L656,134.3L662,133.4L668,132.4L674,131.4L680,130.4L686,129.4L692,128.4L698,127.3L704,126.3L710,125.2L716,124.1L722,123.0L728,121.8L734,120.7L740,119.5L746,118.3L752,117.0L758,115.8L764,114.5L770,113.3L776,112.0L782,110.7L788,109.3L794,108.0L800,106.6L806,105.2L812,103.8L818,102.4L824,100.9L830,99.4L836,98.0L842,96.4L848,94.9L854,93.4L860,91.8L866,90.2L872,88.6L878,87.0L884,85.3L890,83.7L896,82.0" stroke-dasharray="5.5,4"/><path d="M200,63.4L206,63.8L212,64.2L218,64.6L224,65.0L230,65.4L236,65.8L242,66.1L248,66.4L254,66.7L260,67.0L266,67.2L272,67.5L278,67.7L284,67.9L290,68.1L296,68.2L302,68.4L308,68.5L314,68.6L320,68.7L326,68.8L332,68.8L338,68.9L344,68.9L350,68.9L356,68.9L362,68.8L368,68.8L374,68.7L380,68.6L386,68.5L392,68.4L398,68.2L404,68.0L410,67.8L416,67.6L422,67.4L428,67.2L434,66.9L440,66.6L446,66.3L452,66.0L458,65.7L464,65.3L470,64.9L476,64.5L482,64.1L488,63.7L494,63.2L500,62.8L506,62.3L512,61.8L518,61.2L524,60.7L530,60.1L536,59.6L542,59.0L548,58.3L554,57.7L560,57.0L566,56.4L572,55.7L578,54.9L584,54.2L590,53.5L596,52.7L602,51.9L608,51.1L614,50.2L620,49.4L626,48.5L632,47.6L638,46.7L644,45.8L650,44.9L656,43.9L662,42.9L668,41.9L674,40.9L680,39.8L686,38.8L692,37.7L698,36.6L704,35.5L710,34.3L716,33.2L722,32.0L728,30.8L734,29.6L740,28.3L746,27.1L752,25.8L758,24.5L764,23.2L770,21.8L776,20.5L782,19.1L788,17.7L794,16.3L800,14.8L806,13.4L812,11.9L818,10.4L824,8.9L830,7.3L836,5.8L842,4.2L848,2.6L854,1.0L860,-0.7L866,-2.3L872,-4.0L878,-5.7L884,-7.5L890,-9.2L896,-11.0" stroke-dasharray="5.5,4"/><path d="M200,-26.2L206,-25.7L212,-25.3L218,-24.9L224,-24.5L230,-24.1L236,-23.7L242,-23.3L248,-23.0L254,-22.7L260,-22.4L266,-22.1L272,-21.9L278,-21.7L284,-21.5L290,-21.3L296,-21.1L302,-20.9L308,-20.8L314,-20.7L320,-20.6L326,-20.5L332,-20.5L338,-20.4L344,-20.4L350,-20.4L356,-20.4L362,-20.5L368,-20.5L374,-20.6L380,-20.7L386,-20.8L392,-21.0L398,-21.1L404,-21.3L410,-21.5L416,-21.7L422,-22.0L428,-22.2L434,-22.5L440,-22.8L446,-23.1L452,-23.4L458,-23.8L464,-24.2L470,-24.6L476,-25.0L482,-25.4L488,-25.9L494,-26.3L500,-26.8L506,-27.3L512,-27.9L518,-28.4L524,-29.0L530,-29.6L536,-30.2L542,-30.8L548,-31.5L554,-32.2L560,-32.8L566,-33.6L572,-34.3L578,-35.0L584,-35.8L590,-36.6L596,-37.4L602,-38.2L608,-39.1L614,-40.0L620,-40.9L626,-41.8L632,-42.7L638,-43.7L644,-44.6L650,-45.6L656,-46.6L662,-47.7L668,-48.7L674,-49.8L680,-50.9L686,-52.0L692,-53.1L698,-54.3L704,-55.5L710,-56.7L716,-57.9L722,-59.1L728,-60.4L734,-61.7L740,-63.0L746,-64.3L752,-65.6L758,-67.0L764,-68.4L770,-69.8L776,-71.2L782,-72.7L788,-74.1L794,-75.6L800,-77.2L806,-78.7L812,-80.2L818,-81.8L824,-83.4L830,-85.0L836,-86.7L842,-88.4L848,-90.0L854,-91.7L860,-93.5L866,-95.2L872,-97.0L878,-98.8L884,-100.6L890,-102.5L896,-104.3" stroke-dasharray="5.5,4"/><path d="M114.1,50L20.3,750" stroke-dasharray="2,7"/><path d="M183.6,50L118.0,750" stroke-dasharray="2,7"/><path d="M253.0,50L215.6,750" stroke-dasharray="2,7"/><path d="M322.4,50L313.2,750" stroke-dasharray="2,7"/><path d="M391.9,50L410.9,750" stroke-dasharray="2,7"/><path d="M461.4,50L508.5,750" stroke-dasharray="2,7"/><path d="M530.8,50L606.1,750" stroke-dasharray="2,7"/><path d="M600.2,50L703.8,750" stroke-dasharray="2,7"/><path d="M669.7,50L801.4,750" stroke-dasharray="2,7"/><path d="M739.2,50L899.0,750" stroke-dasharray="2,7"/><path d="M808.6,50L996.6,750" stroke-dasharray="2,7"/><path d="M878.1,50L1094.3,750" stroke-dasharray="2,7"/><path d="M947.5,50L1191.9,750" stroke-dasharray="2,7"/><path d="M1017.0,50L1289.5,750" stroke-dasharray="2,7"/></g>
<g clip-path="url(#mapclip)" shape-rendering="crispEdges"><path d="M216.5,108.6L222.2,111.9L226.5,115.6L230.1,119.8L233.8,121.2L238.3,122.3L242.8,123.8L247.9,127.1L251.4,127.8L256.2,130.5L260.1,131.2L265.3,131.3L269.6,132.3L272.6,132L276.9,133.1L280.9,132.7L285.7,132.4L286.2,136.7L290.6,138.4L296.9,140.3L299.8,137.8L303.4,134.7L308.1,133.4L311.3,131.4L315.9,130L320.4,127.2L324.7,125.4L327.7,124.9L331.1,123L334.9,121.8L339.9,120.1L344.2,118.4L348.1,117.5L352,115.9L356.5,115.3L360.5,115.3L364.3,115.8L369.7,116.7L374.5,116.1L378.3,116.2L382.2,115.4L387,114.4L391.3,115L395.4,114L399.8,114.8L403.3,113.9L410.1,110.1L415,108.1L418.6,105.4L423.3,104.1L427.6,99.6L429.7,96.3L433.2,93.4L437.1,89.6L440.2,86.9L444.8,84.1L449.7,81.3L453,79.2L457.3,76.3L461.6,75.4L463.1,69.5L458.6,65.8L454.4,63.2L451.3,58.6L448.5,55L447.5,51.6M216.5,210.6L220.7,208.5L224.7,207.2L229.4,206.2L234.2,208.7L240.2,209.2L244.6,211.3L248.3,208.9L252.6,208.3L255.4,205.5L259,204.1L263.5,203.6L268.4,202.7L271.2,203.2L274.4,207.9L272.1,215.2L269,219.8L266.6,222.3L261.9,224.8L258,228.4L256.3,232.9L253.7,236.6L253,243.8L256.1,247.2L259,250.9L261.1,253.5L264.3,255.7L267.5,259.1L271.6,262.8L276.5,260.9L280.2,260.3L285.5,257.8L289.6,256.1L293.5,255.5L298.2,256.1L302.5,255L307.5,254L311.8,252.3L316.2,246.5L316.7,241.5L316.5,237.5L317.7,233.5L319.8,228.8L319.8,225.7L322.6,220L323.9,215.4L328.9,213.5L331.4,210.5L336.5,208.8L339.3,207.1L341.9,210.7L346.3,216.2L341,222.7L337.9,225.6L335.5,227.5L330.1,232.2L336.1,235.6L341.4,237.6L346.4,240.7L351.3,242.9L356.1,246.6L359.6,249.7L363.5,252.1L359.8,253.5L355.9,256L353.7,262.2L352.5,267L354.1,271.6L354.2,276L359.1,278.5L362.9,280.1L367.6,281.6L372.4,284L376.1,286.4L380.7,287.9L384.7,291L389,294.3L392,300M209,222L212.7,219.8L216.5,218.2L218,210.6M272,262.5L277.6,265.4L283.2,266.6L286.3,271.5L290.5,273.9L293.9,278.2L298.3,281.6L299.8,286.3L302.5,290.6L302.9,294.3L305,300M209,252L213.8,252.9L218.6,255.7L220.6,258.7L223.8,261L227.8,264.5L228,267.9L230,271.7L231,275.7L232.6,279.7L233.1,284.9L234.5,289.2L237.7,294L242,300M332,300L330.6,295.5L331,290.3L331.4,284.6L332.8,280.9L334.6,275.4L340.9,272.2L345.5,272.6L348.4,275.2L353,276M530,116.4L526.4,118.5L521.8,119.3L521.8,123.9L519.8,128.7L519.7,132.5L512.8,137.1L514.3,142.3L516.4,146.7L522.6,152.2L530,153M522.5,151.5L516.1,155.4L518,163.1L511.4,166L505.3,164.5L502.7,167.7L500.4,170.7L494.8,172L489.3,173.2L483.9,174L479.4,175.6L475.5,178.5L473.7,180.9L472,186.6L470,192.5L465.3,193.5L461.3,195.8L454.7,200L450.8,204.2L445.8,200.8L439.3,204.9L434.8,205.1L430.6,203.5L424.3,209L421.1,210.3L415.7,211.1L412.7,215.2L409.5,218.9L406.6,224.2L404.8,228.1L401.3,233.2L399.2,236.8L394.2,242.8L396.5,247.5L397.5,252L395.7,256.1L395,261M450.5,204L451.3,211.3L448.3,215.2L445.7,220.1L445.4,225L444.9,229.8L441.8,233.9L438.3,236.7L437.8,243.9L439.6,248.5L440.8,252.5L443.6,256.7L444.9,261.5L441.7,265.5L440,270.5L439.5,274.5L438.1,278.6L437.3,282.3L435.1,285.2L433.4,289.8L431.9,294.5L431,300M518,163.5L520.1,163.2L524.2,164.3L528,164.2L530.5,170.4L523,173.1L518.3,175.3L520.4,182.6L523.3,183.6L528.4,184.5L530.4,191.8L533,196.8L530,203.3L526.4,204.7L522.2,205.3L516.5,207M516.5,207L513.7,211.1L512.4,215.7L513.1,219.2L513.3,223.6L515.3,228.3L513.8,232.2L512,236.9L514.9,240.9L518.6,245.5L522.5,249.7L524.7,251.9L525.5,256.7L524.4,259.6L523.5,264.7L521.3,268.6L518.9,273L521.2,276.4L522,281L523.1,285.3L521.6,290.6L521.5,294.2L521,300M530,117L531.2,121.5L533.9,125.7L535.4,130.3L540.2,129.5L544.2,127.9L549.5,124.4L553.7,122.8L557.6,119.7L560.8,118.8L565.8,118.1L568.8,116.9L573.1,114.8L577.4,114.5L578.7,110.7L579.6,105.6L581,101.5L586,101.2L592.1,99.5L596.2,97.4L601.2,94.6L604.6,97.5L608.4,101.9L611.4,106L613.7,108.8L613.9,113.4L612.5,118.2L614.7,122.4L618.3,125.1L620.2,128.7L624.6,128.8L628.5,128.5L633.8,128.9L639.5,127.1L641.7,124.5L642.4,119.4L640.5,114.8L639.2,110.3L637.6,105.4L636.6,101.1L642.9,95.9L646.1,98.3L649.8,100.2L652.3,103.6L656.7,106.9L659,111.2L662.6,107L664.6,103.6L667.8,100.4L671.7,97.7L674.6,93L676.3,90.7L680.6,87L684.1,84.2L687.8,83.7L692.5,81.6L696.3,78.6L698.4,76.4L702.5,75.3L707.2,73.9L710.7,72.4L714.4,70.6L717.3,68.5L721.1,66.2L725.2,62.7L728.9,58.1L732,55.4L734,51.6M747.5,51.6L749.1,54.4L752,58.6L757.8,53.6L760.4,57L762.2,61.4L765.5,65.5L767.6,69L770.3,73.1L775.2,78.3L776.4,81.7L779,87.3L781.4,90.1L784.3,94.7L786.1,96.8L788.5,101.9L791.3,106L794,111M794,111L797.5,108.4L800,104.5L803.8,100.2L806.5,95.6L808.1,92.4L810.7,88.7L813.5,83.5L820.6,82.4L825.8,84L829.4,83.8L834,83.3L838.4,80.3L842.8,74.8L839.6,69.6L836.4,65.3L840.7,62.7L843.5,62.2L848.4,59.3L852.8,58.3L856.8,56.7L860,52.5M639.5,127.5L636.8,127.7L636.1,131.6L637.9,133L636.7,135.8L632.9,140.9L637.2,141.1L636,143.1L639.7,147L641.1,146.4L646.9,145.7L647.4,149.9L651.5,147.2L651,148.1L656,151.3L656.5,156.6L655.9,156.2L659.8,160.1L658,163L660.6,160.1L661.6,161.3L668,159.9L670.6,156.3L669.8,157.4L675,157L674.5,151.4L676.7,150L680,146.4L680.6,146.5L681.8,144.5L682,140.2L679.2,138.4L679.7,135.1L675.7,136.1L673.3,132.7L669.7,134.5L668.4,136L668.2,135.6L668,130.2L669.7,130.5L674.9,128.8L675.8,129L680.5,130.5L684.1,131.7L686.7,128.8L690.1,128.8L691.5,128.4L694.9,126.9L695.4,126.4L697.6,128.8L702.1,126L703.9,128.5L707,124.8L709.4,129.2L711.2,129.3L709.9,134.9L713.5,137.3L712,136.6L714.3,138.1L717,142.1L715.6,143.4L714.2,146L710.4,149.7L711.6,149L708.2,153.5L704.6,154.7L702.4,156.2L701.9,160.9L702.7,162.2L698.9,165.7L702.8,167.6L702.2,170.2L705.3,174.2L699.1,173L697.5,175.7L701.6,173.3L702.5,175.6L706.6,173.4L709.2,176L712.2,177.3L710.4,178.6L710.6,183.2L706.4,181.7L705.9,183.2L700.6,187.8L700.4,188.9L698.2,190.7L696.3,189L695.9,193L700.1,196.8L700.3,194L704.2,192L705.8,189.5L710.1,190.9L710.8,187L716.3,187.1L716.2,181.4L720.9,183.1L720.4,177L723.9,176.5L725.7,175.7L727.2,171.8L728.9,170.2L729.1,171L733,166.3L732.5,165.5L735.9,163.6L736.2,161.2L741,162.2L740.4,159.6L745.9,156.1L748.7,155.2L750,155.9L752.6,153.6L754.1,153.9L756.7,153.2L759.3,151.2L759.9,151L764.5,148.3L768.2,149.7L768.3,144.8L769.9,142.3L769.9,141.4L771.2,139.2L774.5,135.2L776.6,133.2L778.5,134L779.1,128.5L780.5,127.7L784,124.4L785.1,125.9L786,122.9L785.5,121.5L788.6,119.3L792.2,113.7L793.5,115L794,111M767,150L771.3,150.3L777.4,150.5L782.6,151.1L787,152.4L791,155.2L795,155.6L795.1,160.2L794,164.5L793.8,170.2L794.3,174.6L793,178.5L792.4,182L792.7,185.8L792.1,190.1L790.6,194.6L788.9,198.8L793.8,199.7L798.2,201.4L802.7,203.7L805.8,205.9L810,203.5L814.6,201.8L818.9,200.6L822.7,200.3L826.8,202L830.5,203.2L834.1,205.7L839.2,208.4L842,213.6L844.4,217.1L840.7,218.7L835.2,221.3L830.9,223.3L833.8,226.9L837,229.6L839.8,233.4L841.7,237.4L844.6,239.4L847.4,244.2L851.6,248.5L853.8,251.6L851.3,256L850.3,259.3L848.6,263.2L847.2,267.4L847.6,272.6L848.8,277.1L850.8,281.6L853.3,285.4L856.2,288.1L860,291M659,162L659.4,162.7L654.7,167L654.5,169.4L654.4,169.6L651,172.7L648.8,178L650.9,179.8L646.3,183L647.7,183.2L645.8,185L641.7,185.4L639.8,187L637.8,191.6L636.9,193.5L634.4,192.5L631.1,192.8L629.5,192.9L624.6,193L625,190.8L622.2,191.4L616.9,193.8L616.6,198.5L615.8,198.4L615.7,201L612.1,206.2L613.1,207.8L613.7,212.1L613.4,214.5L614.9,217.6L615.7,219.5L618.3,220.2L618.7,224L621.1,226.3L624.4,223.4L627.3,228.4L631.3,224.4L632.9,223.5L638.8,225.6L641.9,225.5L642.1,224.4L646.4,224.9L649.9,227.7L648.1,230.1L653.3,233L649.4,232.7L649,235L651.9,241.4L650.6,244.4L652.6,243.6L652.2,244.2L657.1,246.2L657.7,247.4L658.9,246.9L662.5,249.2L665.4,247.7L670.5,248.8L672.5,249.5L670.8,246.7L674.5,246.5L676,244.3L678.7,240.3L681.6,237.6L682.9,235.8L680.8,233.9L685.7,235.2L683.8,231L687.8,230.1L688.4,226.5L691,225.7L692.4,224L695.5,221.2L700.4,223L700.8,224.1L703.3,225.5L708.6,226.3L710.9,225.1L712.6,226L717.7,225.7L720.7,226.4L720.7,228.5L726.3,229L726.5,230.2L728.3,227.8L732.3,228.8L736,228L736.9,226.3L738.8,228.3L743.7,227.6L740.8,228.9L742.7,232.1L739.1,234.2L741.7,235.8L736.6,238.1L736.9,242.5L732.5,241.5L730.5,243.4L729.3,243.9L726,245.2L726.5,248.8L720.2,251L717.8,249.7L719.3,252.7L715.8,252.3L711.1,254.4L708.3,253.7L707,254.9L704.6,260.3L703.4,261L704.1,263.3L702.9,266.5L705.1,269.6L704.7,269.7L700.6,272.6L697.3,271.8L696,276.2L694.2,277.9L692.6,280.3L689.6,281.8L686.2,285.1L683.2,286.6L684.2,290.4L682.4,291L680.4,294.6L680.2,297L678.5,300M561.5,159L566.3,156.7L570,153.2L573.2,148.3L575,144.8L579.5,146.3L585,149L590.7,151.5L593.9,154.6L597.6,157.8L600.5,160.7L599.5,164.3L597.4,168.7L600.8,166.8L604.8,165.4L608.9,171.8L607.8,174L606.1,178.3L610.2,181.4L616.9,181.8L618.3,186.4L619.6,192.4L615.5,196.5M561.5,159L560.7,166.5L557.3,170.7L555.3,173.5L556.4,178.2L559,181.7L562,183.6L565.1,186.2L568.8,187.7L574.8,188.8L579.4,188.7L584.8,186.2L590.5,184.3L591.3,178.9L591.3,173.6L585.4,172L588.7,171.4L593.1,169.1L597.5,168M590,184.5L591.9,189.7L594.4,195.2L596.3,200L598.2,206.1L600.5,209.8L605.6,213.5L608.2,210.5L612.5,207M620,223.5L614.2,227.2L610.2,231.7L608.2,233.6L604.4,236.4L599.3,238.9L594.3,239.4L591.4,245L586.5,249.6L583.7,251.5L580.3,253.6L577,255.5L574.5,259.3L573.5,263.4L571.9,267.6L568.3,271.1L564.1,275.4L563,279.8L561.4,284.4L563.7,289.5L566.1,294.6L567.5,300M530,291L533.2,292.5L537.9,293.1L542.3,294.5L545.8,293.4L550.7,292.3L554.2,292.7L557,288.9L561.5,285M878,52L877,57.2L875.2,61.8L874.3,65.5L873.6,69.3L874.7,74L875.5,78.2L877,81.4L878.6,85.6L879.5,88.9L877.3,92.3L875.4,95L872.8,98.3L869.7,101.3L867.1,105.6L864.7,108.5L861.6,110.9L859,114.5L857,118L853.4,121L852.2,123.9L848.3,126.7L844.2,128.3L841.7,130.8L837.3,132.9L843.1,138.2L841.9,143.9L841.3,149.6L845.6,150.1L849.9,151.7L854.4,152.4L857.5,154.6L862.4,158.3L866.2,159.8L869.7,163.5L872.4,165.6L875.2,168.9L878.4,171.9L882.1,175.7L884.3,178.1L888.3,181.4L893,186M209,358.5L214,357.1L218.7,355.4L222.5,354.6L228.6,354.7L236.8,355.5L238.1,358.6L240.7,362.5L244.4,368.2L249.5,370.8L254.9,372.7L259.3,374.1L263.9,374.2L267.9,377.6L270.9,380.5L271.3,385.2L273.8,389.1L272.4,395.3L276,400.1L279.4,404.2L282.9,405.7L287.3,405.7L290.2,405.7L295.5,403.8L298.7,403.9L303,398.1L308.7,396L313.8,396.1L315.4,390.3L312.7,386.7L310.8,382.7L315.7,377.9L320.6,377L326.7,375.5L329.1,371.7L331.3,369.8L331.6,364.3L330.2,358.7L337.3,356L332.2,349.2L327.4,345.6L329.6,340L332.2,335.1L337,333.7L340.2,333.2L345.9,335L351.5,336.8L355.3,338L361,336.6L365.1,334.1L368.6,329L373.5,327.7L378.3,324.8L383.1,324.5L387,322.9L389.7,314.6L387.7,311.5L385.9,307L387.9,304.2L390.5,300M209,336L211.7,340.4L212.8,345.5L211.7,348.3L209,352.5M209,382.5L213.6,380.9L218.6,378L216.5,370.6L213,364L218,358.5M209,330L213,328.1L217.8,325.6L220.1,321L221.9,315.8L227.8,314.8L230.9,313.7L234.2,309.2L236.2,305.8L239,300M303.5,300L302,306.7L304.3,312L308.6,315L313.4,316.9L318.9,319.4L322.7,322.4L326,325.2L328.6,326.3L334.5,322L333.6,317.3L333.6,314.1L337.2,312L341.7,308.3L342.7,304.3L344,300M315.5,390L315.6,395.2L316.6,399.1L321.7,402.7L326.3,404.8L331.2,403.7L337.2,404.3L341.3,402.8L346.6,403.3L350.6,407.1L353.5,408.8L358,410.6L362.2,411.8L365.8,412.7L371.4,416.2L375.8,416.7L380.1,418.9L385.4,416.7L390.1,418.6L395,421L398.6,421.9L403.3,422.7L407.3,424L409.8,427.2L413.6,429.2L417.5,430.5M386,417L385.1,421.4L382.4,424.4L386.9,431.2L385,433.7L381.4,436.2L379.8,440.2L377.2,443.4L375.1,447L374.3,451.6L369.7,455.1L366.1,457.4L362.2,459.4L359.5,461.7L357,465.7L355.7,470.1L351.6,474.8L347.8,479.1L344.3,482.5L339.5,481.2L334.6,479.5L330.3,478.5L326.8,476.2L320.9,474.4L317.6,473.3L311.4,470.7L308.8,474L305.5,478.2L307.4,483.7L304.8,488.3L300,491.9L296.7,496L298.4,499.7L300,504.4L303.8,506.5L305.8,509.3L312.7,514.5L318.1,517L323.2,523.8L327.2,525.1L330,525.8L336.9,521.9L344.4,522.8L348.2,520.2L352,518.1L353.7,513L356.7,510L360.3,508.1L363,507.5L369.3,511L376.8,510.2L382.2,513L384.4,516.8L385.4,520.8L392.5,525.6L394,529.1L396.3,532.9L399.5,534.6L404.7,535.5L406.3,531.8L408.6,527.2L410.7,523.8L411,519.9L411.1,515.8L410.7,509.4L407.3,503.5L402.5,500.4L399.6,496.5L396.1,493.6L392.6,492.3L385.3,488.4L387.5,484.5L388.6,479.4L387.3,474.2L386.1,470.1L389.9,468.1L395.4,466L399.5,466.7L402.8,465.4L407.5,465L410.6,464.2L414.9,461.7L417.6,459.7L421.4,458.8L425.5,456.7L429.3,455.1L431.8,453L434.7,449.2L435.1,443.9L433.5,440L431,435.8L427.1,435L422.7,432.9L418.3,430.9L417.4,425.5L416.5,420.6L415.9,414L414.7,409.1L419.3,406.1L423.6,404.2L428.2,403.1L432.5,403.4L433.2,395.7L427.7,394.7L422.9,393.2L419,390.8L412.6,388.4L418.3,387.2L422.9,386.4L427.3,386.9L431.4,386.6L435.2,387.1L440.5,387.2L445.1,386.7L449.5,386.3L454.9,385.6L461.2,388.5L463.7,391.1L466.6,394.5L469.8,397.6L473,399.1L478.1,400.8L481.3,403.1L484.7,405.8L489.7,405.9L494.5,405.3L500.6,406.4L503.3,405.8L507.9,405.9L511.4,404.6L517.2,405.8L520.4,405.5L525.3,406.4L530,406.5M437,300L438.7,304.3L440.5,307.5L438.1,313.1L435.9,318L435.5,323.3L435.2,327.4L434.6,332.2L435.4,337.1L436,341.7L437.1,344.9L439,350.1L440.2,353.8L442.2,357.7L444.9,361.2L446.6,365.3L448.8,368.7L452.5,374.1L455,377.9L455,385.5M437,345L441.5,343.7L446.4,343.1L452.1,341.3L456.7,340.2L460.5,339.5L464.7,337L467.6,336.7L470.7,333.8L475.4,333L479.7,331.9L480.6,324.8L485,323.5L489.8,322.8L493.8,322.7L498.8,321.7L504.3,319.5L508.4,317.8L513.3,314.3L518.1,311.1L521,305.2L522.5,300M411.5,510L415.9,504.2L419.8,500.7L422,498.5L424.5,494.7L430.3,492.5L434,488.4L438.6,489.3L442.5,489.8L446.6,488.9L447.7,484.9L450.5,481.5L454.5,476.5L460.2,478.2L464.8,479.8L470.2,479.3L474.4,481.5L478.7,482.3L482.7,482.7L488.5,485.4L492.8,487L497.7,489.1L502.6,490.7L507.6,489L512.1,485.9L516.6,487.7L522.9,489.9L525.6,488.5L530,487.5M411.5,520.5L412,525.5L412.7,530L412.3,533.2L413.9,537.7L414.3,541.8L414,545.6L416.1,551.1L419,555M318.5,517.5L314.6,519.3L310.4,521.3L305.8,524.1L305.1,531.7L307.2,534.9L309.1,537.8L314.7,539.1L318.2,539.1L325,542.7L321.7,549.7L317.4,550.5L312.8,550.3L309.5,550.8L304.7,552.6L301,553.5L296.6,553.5L293,555M227,555L230.3,552.5L234.8,550.7L237.6,548.4L239.1,544.3L240.3,539.3L242.9,537.5L246.3,533.6L248,530.2L250.1,526.3L252.8,523.2L257.2,523.1L262.3,521.6L268,527.4L265.9,533L265,536.5L268.8,543.4L274.1,545.2L279,546.7L284.8,547.1L289.9,548.4L293,555M675.5,300L673.6,304.1L671.6,309.1L666.3,310.8L662.2,313L661.1,317.4L659,322.6L654.9,325.2L651.3,327.3L647.9,329.7L643.8,332.3L639,330.6L634.7,327.3L629.9,329.3L625.8,331.5L620.4,330.1L615.2,329.6L611.2,328.1L607.7,325.3L603.4,325.2L598.1,324.6L595.4,329.6L599.7,332.5L605.3,334.3L610.9,339.3L615.8,341.6L620.6,344.8L624.2,345L627.4,346.7L632.4,346.8L635.8,349.5L640.5,353.5L648.2,352.3L646.3,357.4L645.7,362.5L648.3,366.9L650.3,370.1L652.9,374.5L655.8,377.2L661,379.9L664.7,380.3L670.1,378.2L673.3,374.6L679.4,380L678,386.2L673.6,385.6L668.3,386.8L663.9,390.5L667.6,395.3L667.2,399.6L665.7,403.8L668.4,407.8L671.2,410.9L671.8,415.8L673.9,420L680.7,423.9L685.7,422.3L690.8,422L697.6,423.1L702.8,422.7L706.1,421.6L709.3,421.3L713.9,422.5L717.7,423.9L722.3,426.3L727.6,428.6L731,425.9L734.7,422.8L736.7,420.6L743.9,421.6L742.7,417L741.6,411.9L740,406.5M671,309L673.5,312.3L677.2,314.9L680.4,318.5L683.4,320.2L687.8,322.5L691.3,325.1L695.5,327.8L699.9,328.9L703.7,331.4L705.8,335.5L707.3,339.7L710.8,345.4L711.8,349.3L715.8,353.1L716.9,357L719.4,360L721.6,363.2L724.2,367.7L726,372.7L728.2,376.1L731.6,377.9L735.2,380.9L740.5,382.2L743,384.7L747.6,387.2L750,389L754.8,392.6L757.7,395.5L757,403.2L751,402.8L745.8,402.5L741.1,399L737.1,397.7L739,402.3L740.6,407.2L744.5,408L748.5,409.2L753.6,410.3L758.3,414.2L762.4,419.3L757.3,423.8L753.4,426.3L749.4,428.2L743.5,432.6L740.5,434.9L736.7,438.3L734,440.9L730.7,443.9L726.8,443.8L722.6,442L717.2,443.9L713.9,442.3L709.5,440.3L705.2,439.4L701.8,438.7L695,438M690.5,421.5L694.1,426L697.2,429.2L696.2,432.8L695.3,438.2L690.9,441.9L688.2,445.5L685.5,448.9L682.7,453.6L681.5,457L681.8,461.9L677.1,465.3L673.8,468.1L671.6,472.5L669.6,476.8L662.9,481L659.6,486.1L664.4,491.1L669.1,492.9L674,496.1L676.2,501.8L678.1,507.1L683.9,510L686.6,513.3L688.4,517.3L690.4,522.6L692.6,525.8L694.9,528.4L697.3,532.9L701.1,534.5L706.8,535L712.2,532.6L716.4,528.9L722.4,533.3L723.1,538.3L724.2,543.2L726,547.2L728,552M731,444L734.2,444.8L737.2,446.8L739.4,447.7L741.8,450.1L740.9,448.7L744.1,447.9L748,447.2L747.9,444.3L753,446L755.6,442.7L757.7,443.7L760.1,447.6L760.8,448.9L765.8,443.9L766.1,442.8L771.5,441.4L771.3,439.9L774.3,444.3L777.6,444.2L777.3,447.8L777,448.4L778.4,453.2L776.8,457.4L775.7,455.7L770.8,458.2L769.3,463.3L768.3,461.5L766.4,467.9L769.3,469L769.1,471L771.5,475L770.9,478.6L766.6,480L766.5,485.1L767.4,484L764,488L763.9,491.6L762,493.2L758.8,496.8L759.7,497.1L759.6,504L757.2,503L759.4,506.3L757,510L755.5,512.6L755.1,516.5L755.7,514.7L752.3,520.2L752.4,522.6L750.2,524.4L747.8,525.2L748.5,530.2L747.9,531.8L743.3,534L743.5,534.6L741.2,535.7L739,537.8L735.1,539.3L734.7,544.1L733.9,543.4L731.4,544.8L730.3,546.4L727.3,551.6L728,552M722,534L718.9,536.9L716.1,539.7L718.5,543.8L721.7,548.7L726.5,555M659,486L654.9,483.8L650.7,481.2L647.7,477.9L643.3,473.5L638.9,473.3L633.3,471.4L630.4,474.6L626.8,477L622.1,472.1L619.6,465.7L615,469.1L611.3,472L606.3,472.8L602.2,474.6L598.5,470.5L594.9,468.7L594.2,463.3L594,460.6L592.7,455.4L590.5,452.1L589.6,448.2L587.7,443.5L589,440.6L591.7,436.3L587.3,432.5L581.8,428.9L578.8,423.2L583.7,418.5L588.7,415.9L592.9,413.2L594.4,409.6L595.3,404.3L592.4,400.9L589.7,395.3L581.9,393.9L575.4,395.3L572.5,392.1L569.1,388.6L566.8,385L564.7,380.7L567.1,376.1L569.3,372.4L575.4,368.7L575.9,365.8L575.9,360.6L576.5,357.7L580.4,350.2L585,352.7L589.4,353.8L593.8,355.1L597.9,356.3L601.2,357.9L604.3,355.5L608.1,352L605.7,348.5L601.4,344.5L600.1,341.2L597,335.2L596,330M597.5,324L594.2,321.3L590.8,319.5L585.7,317L581.5,314.9L577.7,311.1L574.4,306.4L571.3,303.2L569,300M554,321L557.6,323.1L560.8,324.1L565.1,326.2L569.7,327.2L573.6,327.6L578.6,328.9L583.6,329.5L588.4,330.2L591.7,330.8L596,330M530,403.5L532.5,408.1L535.5,413.1L539.6,415.9L542.4,420.5L546.9,420.5L552.5,422.1L555.5,423.8L559.7,425.4L563.1,428.1L567,428.9L571.8,429.4L576.3,425.5L579.5,423M564.5,381L561.3,384.8L556.7,386.2L551.9,389.3L547.2,390.7L542.9,393.4L538.4,395.5L534.8,399.1L530,403.5M602,474L597.7,476.7L594.3,478.6L590.8,479.3L585.6,481.5L582.3,481.3L578,482.6L574.9,485.4L571.2,489.8L567.7,490.6L563.4,491L559.4,491.9L556,494.3L552.4,496.4L549.5,497.4L544,497.2L539.7,496.3L537,489.7L541.1,486.4L543.1,482.5L538.6,476.3L533.8,478.5L530,480M549.5,498L550.9,502.6L552.3,506.2L550.6,511.7L548.1,516.1L551.3,520.5L554.6,523.8L551.8,526.7L549.9,531.3L547.8,533.8L545.6,537.9L544.3,542.2L543.2,547.7L542.1,551.2L542,555M674,496.5L674.8,500.6L675.5,504.9L677.5,510.5L674.7,512.3L671.3,515.7L668.2,519.1L663.2,522L658.2,523.9L655.1,526.5L650.1,530.3L645.8,533.5L642.9,536.8L644.3,541.3L645.5,546.2L645,550.2L644,555M209,588L213.7,592.6L217.6,591.2L222.1,590.2L224.7,586.1L227,582L225.1,576.9L224.7,573L222.5,567.8L221.5,562.1L223.5,559.3L226.9,555.2L231.3,553.4L235.1,549.8L238.1,547.3L242.5,542.4L239.9,536.6L243.6,533.8L248.5,531L250.2,526.6L252.3,524.3L257.3,522.7L261.5,522.5L265.7,522.9L269.3,524.8L266.8,528.3L264.3,532.2L265.8,535.5L267,540.1L270.5,541.7L275.3,544.1L280,541.8L286,539.3L289.5,542.8L292.5,544.4L296.5,550.7L291.3,555.8L286.9,557.8L282.8,559.2L277.1,561.2L272.5,562.3L268.1,561.1L265.2,559L259.3,558.3L252.3,562.8L248.5,564.1L245.4,566.8L246.5,570.7L248.6,574.9L248.7,582.1L254.7,582.7L260.5,583.4L265.2,583.4L270.4,582L275,588.5L273.8,592.9L271.8,596.3L270,600.8L267.9,604.9L265.4,607.8L263.8,612.5L267.6,614.3L272.4,618.1L274.3,621.3L278.3,624L275.8,631.8L270.4,636.1L269.8,644L274.1,647.4L276.2,645L278.7,642.8L282.1,637.9L285.2,634.1L290.6,631.6L294.5,632.9L298.3,634.2L303.3,636.5L307.1,637.1L310.5,638.3L315.6,640.3L319.9,636L326.1,631.3L331,628.8L335.7,627.1L338,623.7L342.6,620.9L347.1,616.2L352.6,614L356.4,617.6L361,621.1L363.9,623.7L367.4,625.6L370.3,626.9L375.7,623.3L380.6,620.3L383.9,618.2L388.2,616.6L391.7,618L395.3,619.8L399.2,613L403.8,611.4L407.7,610L410.9,605.4L416.5,603.7L420.4,600.3L421.6,594.6L420,588.9L416.8,585.3L419,581L421.7,575.6L419.1,572L416.1,567.9L412.2,569L407.5,569.4L401.5,567.8L405.3,564L409.8,562.7L413.3,559.6L416.8,556.4L416.4,548.9L414.8,543.9L413.5,539.4L414.2,536.8L414.7,532L414.2,527.8L413.4,522.7L412.2,516.8L413,510.6L412.4,505.6L410.8,500.4L416,495M296,550.5L299.6,551.1L304.6,550.1L308.7,549.8L312.2,551.2L315.8,551.2L320.3,549.8L325.7,545.9L321.1,540.4L316.5,539L312.2,536.3L306.6,531.9L306.6,525.5L310.4,523.4L313.3,522L317.1,520L320.9,517.6L325.8,520.3L330.8,523L337.5,525.7L342.2,523.3L347.6,520.5L350.2,516.9L355.1,513.9L356,508.6L362.9,506.9L367.5,508.6L372.5,509.8L376.5,510.6L381,510.9L382.6,515.8L384.5,519.6L389.7,524.2L392.7,527.7L395.1,531.3L399.1,533.7L403.4,535.1L406.2,532.3L410,529.2L414.5,528M296,495L301.1,500.3L302.9,504.3L305.2,509L309.1,510.8L312.1,514.7L317.8,515.3L321.5,517.5M399.5,495L401.9,499.1L404.5,502.2L408.2,506.2L411.5,510M273.5,648L279.2,647.7L284.2,648.9L288.4,648.8L289.6,657.4L294.3,656.9L297.8,657.4L301.5,658.1L306.2,659.3L311.8,659L314.7,660.7L318.9,663.7L319.7,667.7L319.5,672.2L317.6,676.2L313.3,679.8L312.3,686.5L317,689.5L320.4,690.9L324.5,693.2L328.6,693.9L332.5,695L335.9,696.6L340,699.5L337.8,702.4L335.7,706.6L332.7,711.9L335,716.7L336.1,720.5L341.3,721.8L346.9,724.1L351.5,728.2L356.3,730.8L359.8,732L364.5,732.8L368.7,734L371.8,732.8L376.2,734L379.7,733.7L385,732.5L388.2,730.5L391.2,726.1L395.5,722.9L398.9,724.4L402.2,725.5L406,729.6L410,732M209,699L212.9,700.2L215.8,701.6L221.3,698.9L225.8,696.5L228.6,699.3L232.3,702.5L237,699.4L242.7,697.3L245.3,701.1L249.7,704.1L253.8,699.7L259.2,696L264.5,694.8L269.5,694L273.5,690L277.5,687.7L282.4,685.2L286.6,682.3L290.4,681.6L295.6,680.5L298.8,680.2L304.9,678.3L308.8,676.7L313.9,675L318.5,672M353,750L356.5,748L360.7,745.3L364.3,743.5L368.7,741L371.5,739.9L374.8,737.8L379.5,735.5L383,733.5M420.5,600L424.2,601.9L428.6,603.4L432.9,600L436.7,597.9L443,598.4L446.9,597.1L451.4,593.3L454.8,591.4L460.5,589.1L465.9,587.7L470.1,589.4L475.3,591.2L477,594.8L478.3,598.7L480.8,601.8L478.6,605.5L477.6,611L475,614L470.9,618L469.9,622L467.4,626.5L472.7,630.8L477.2,628.3L482.7,626.2L485.2,628.2L490.2,631L495.2,635.9L499.4,641.6L499.1,646.3L499.2,650.6L495.8,656.9L493.9,662L491.7,665.4L488.7,667.9L486.9,672L485.1,677.5L483.9,682.1L482.5,687.7L482,691.2L478.5,694.1L474.9,696.8L470.5,699.9L465.3,702.7L462.9,705.3L460.3,709.6L458.4,712.8L454.9,716L452.9,718.9L452.2,723.7L447.7,725.6L443.4,727.3L440.7,730.9L436.7,733.3L431.5,728.8L426,731.1L422.1,732L418.5,734.1L413.9,734.7L410,732M432.5,750L431.7,747L434.8,746.3L436.6,742.5L436.6,739.8L438,739.5L442.3,738L441.5,735.8L447.1,735.8L450.8,738.3L453.1,738.7L455.7,739.7L456.4,737.9L461.9,736.5L463,733.1L467.5,735.7L469,732.2L471.8,731L476.8,734.1L480.3,731L482.9,729.4L486.5,730.1L485.8,731.1L488.7,728.4L490.6,728L495,728.5L495,727.4L497.5,723.7L502.1,723L503,722.9L504.8,722.8L507.7,722.2L513.4,720.2L512.9,720.5L515.9,718.5L520.1,715.7L523.4,717.7L525.6,715.4L527.7,715.3L530,714M495.5,636L498.8,634.3L503.8,632L505.2,626.7L506.8,621.8L510.5,620.4L514.9,619.8L520.6,620.2L525.2,620.5L530,624M525.5,615L530,616.5M548,501L550.1,505.2L552,510.4L554.8,515.2L556.5,520.8L553.5,524.6L551.1,529.8L548,533.6L544.2,537.7L543.4,541.4L541.8,544.5L541.2,549.6L545.4,553L547.6,556.3L549.7,562L553.3,566.7L552.5,571L553.8,576.6L558.2,578.9L560.9,581.4L559.9,586.4L559.5,590.8L559.2,594.5L557.7,599.8L556.4,603.9L560.1,608.3L562.5,611.6L567.5,611.2L573.8,609.7L578.8,611.1L582.9,613.3L581.5,617.8L578.9,620.2L575.3,624.1L571.8,626.2L568,633.5L571.2,633.8L575.6,636.1L579.6,633.5L585.7,632.1L590,630.2L594,628.1L600.4,626.8L604.4,625.6L609.7,625.8L615.4,627.1L616.5,622.8L616.9,617.3L617.9,613.3L618,609.8L618.8,606.3L619.6,601.7L621.8,597L623.2,593.2L626.2,587.3L628.6,584.3L631.6,578.8L631.7,575L630.7,570.4L631.3,564.9L634.3,561.5L635.8,556.5L639.1,554.2L642.1,550.8L646.2,547.7L645.4,541.9L643.4,536.2L647.4,532.6L650.8,529.8L653.2,527.7L657,525L662.1,523.2L668.6,521.2L671.7,518.1L677.1,515L680.8,513.2L684.7,512L689.8,513.8L689.1,521.7L691.3,524.7L694.4,528.2L697,533L701.7,532.6L707.2,533.5L710.6,529.6L715.3,526.6L718,529.6L722.4,534.6L720.3,537.1L717.3,541.2L714.9,546.9L718.4,549.8L722.4,549.7L726.5,549M617,618L620.8,619.6L626.3,622.7L630.5,621.7L634.9,621.2L639,624.7L642.9,627.5L650.7,629L652.6,633L654.8,639.6L655.9,644.1L657,648.7L660.5,654M530,717L532.7,716.7L534.9,713.7L538.3,712.6L540.2,712.3L547.1,712.5L549.9,712.2L551.5,711.2L553.1,706L552.9,704.6L552.3,700.8L556.4,700.9L554.4,697.2L556.7,694.7L559,691.6L558.3,691.4L561.2,692.6L563.4,694.2L568,694.5L569.1,695.7L572.2,695.9L574.6,694.8L578.5,694.3L578.4,690.2L581.9,692.5L583.4,688.9L589.4,691.7L590.1,688.7L595.3,689.3L597.8,688.5L597.9,685.2L599.2,686L602.2,682.9L608.2,685L609.2,685.4L611.8,686L613.1,683.6L615.1,682.4L619.4,681.9L621.3,682.5L627.7,682.6L627.3,682.2L629.5,678.5L632.6,679.1L637,678.1L639.8,675.5L643.3,675.4L645.5,672.9L646.9,671.5L648.6,671.8L649.3,667.3L647.8,664.6L653.3,662L653.7,661.4L655.2,657.1L654.9,655.2L660.6,655L661.2,654.3L661.8,650.6L663.4,652.6L666.4,651.5L668.4,648L668.4,645.8L669.9,641.4L670.4,637.3L668.4,637.3L671.1,634L675.7,631.8L675.7,630.3L679,630.9L682.6,631.4L686.1,629.5L687.7,631L688.3,625.4L691.7,623.8L694.3,625.4L695.2,621.8L699.4,621.1L700.3,619.7L701.8,615.6L704.9,614.9L708.9,613.2L706.6,609.8L711.1,609.3L710.6,608.5L709.6,602.3L709,601.6L707.9,597.6L712.6,595.2L711.2,593L717.1,595L718.5,594.4L719.5,596.6L720.7,599.2L723.9,594.8L729.1,594.4L728.1,590.3L731.7,590.1L730.4,587.4L735.1,585.2L730.3,583L729.5,581.7L724.9,580.3L728,577.1L727.1,572.4L726.8,568.6L724.2,567.8L727.5,562.9L724.9,560.1L726.2,557.9L725.1,558L726.9,556.2L726.1,552.4L724.4,551L728,547.4L731.8,548L734.3,546.7L737.5,541.8L740,539.4L742.2,538.3L740.3,538.3L742.2,533.6L743.1,532.1L742.4,528.2L743.8,527.6L743.8,524L746.4,520.7L749.3,519.2L748.9,514.5L750.3,515L751.6,508.8L754.3,508.1L757.1,503.2L755.3,501L759.4,500.3L761.1,500.2L764.7,498.1L769,494.7L770,495M564.5,696L565.2,701.1L563.8,707.2L568.7,705.7L573.9,706.2L579.9,707.1L583.9,706.5L586.1,699.5L582,696.8L578,694.5M677,495L677.9,499.1L680.3,504.1L682.7,508.4L684.5,511.5M786.5,588L792.5,588.7L796.3,591L798.1,595.1L799.3,600.4L799.6,605.8L799.5,610.3L798.3,614.4L798.7,618L798.3,622.5L796.7,626L797.3,630.3L796.6,633.5L796.5,638.5L794.8,641.9L795.3,645.5L793.9,650.7L794,653.6L791.5,658.3L789.1,663.4L785.9,667.1L785.5,671.9L784.7,676.4L784.8,681.5L783.7,686.5L782.3,682.7L778.6,679.1L775.9,674.5L771.5,672.7L767.3,671.5L762.3,671.2L761.1,666.9L759,662.5L757.2,658.9L754.5,654.4L754.2,649.1L754.5,645.2L754.1,641.1L755.1,636.1L755.7,632.8L758.4,628.4L758.8,624.1L760.5,621.3L762.2,616.8L764.6,613.8L767.8,609L768.4,606.7L771.8,601.7L772.7,598.5L776.1,595.7L779.7,592.9L782.4,590L786.5,588M769.2,434.3L767.8,436.1L765.6,435.3L765.9,432.9L768.2,432.6L769.2,434.3M776.9,436.7L775.3,438.8L772.9,437.8L773.2,435.2L775.8,434.7L776.9,436.7M776.9,437.8L775.7,439.5L773.7,438.7L773.9,436.6L776,436.2L776.9,437.8M769.5,446L768.1,447.8L766.1,447L766.3,444.7L768.5,444.4L769.5,446M767.8,435.2L766.3,437.1L764,436.2L764.2,433.8L766.7,433.4L767.8,435.1M771.7,443L770.8,444.3L769.2,443.7L769.4,442.1L771,441.9L771.7,443M777.3,444.2L776.5,445.3L775.2,444.8L775.3,443.4L776.7,443.2L777.3,444.2M775.3,435.7L773.8,437.7L771.4,436.7L771.7,434.3L774.2,433.9L775.3,435.7M777.6,444.1L776.6,445.4L775.1,444.8L775.3,443.2L776.9,442.9L777.6,444.1M768.2,442.3L766.8,444.1L764.7,443.2L765,441L767.2,440.7L768.2,442.3M763.5,466.3L762.2,468.1L760.1,467.3L760.3,465L762.5,464.7L763.5,466.3M762.7,471.6L761.7,472.9L760.1,472.3L760.3,470.7L761.9,470.4L762.7,471.6M764.9,469.1L763.6,470.8L761.6,470L761.8,467.8L763.9,467.5L764.9,469.1M770.8,464.4L769.3,466.4L766.9,465.4L767.2,462.9L769.7,462.5L770.8,464.4M764.6,467.5L763.2,469.4L761,468.5L761.2,466.1L763.6,465.8L764.6,467.5M770.6,471.4L768.9,473.6L766.3,472.6L766.6,469.8L769.4,469.3L770.6,471.4M764.4,467.7L763,469.7L760.7,468.8L761,466.4L763.4,466L764.4,467.7M764.5,465.9L763.5,467.2L762,466.6L762.2,465L763.8,464.7L764.5,465.9M766.8,508.3L765.3,510.3L762.9,509.3L763.2,506.8L765.7,506.4L766.8,508.3M768.1,507.9L767,509.4L765.3,508.7L765.5,506.9L767.3,506.6L768.1,507.9M761.2,507.2L760.4,508.3L759.2,507.8L759.4,506.5L760.7,506.3L761.2,507.2M764.2,500.9L763.4,501.9L762.2,501.4L762.3,500.2L763.6,499.9L764.2,500.9M764.5,501.5L762.8,503.8L760.1,502.7L760.4,499.9L763.3,499.4L764.5,501.5M767.1,504.6L766.1,505.9L764.7,505.3L764.8,503.7L766.4,503.5L767.1,504.6M738.7,534.1L737.4,535.8L735.4,535L735.7,532.8L737.8,532.5L738.7,534M740.7,535.7L739.4,537.5L737.4,536.7L737.6,534.5L739.7,534.1L740.7,535.7M743.3,530.8L742.5,531.9L741.3,531.4L741.4,530.1L742.7,529.9L743.3,530.8M740.5,533.9L739.5,535.2L737.9,534.6L738.1,532.9L739.7,532.7L740.5,533.9M742.8,531.8L741.7,533.2L740.1,532.5L740.3,530.8L742,530.5L742.8,531.8M727,546.7L725.4,548.8L723,547.8L723.3,545.2L725.8,544.8L727,546.7M726.4,544.6L724.6,546.9L721.9,545.8L722.2,542.9L725.1,542.5L726.4,544.6M729.6,545.9L728.8,547.1L727.5,546.5L727.6,545.2L729,544.9L729.6,545.9M726.1,546.1L725,547.5L723.4,546.8L723.6,545.1L725.3,544.8L726.1,546.1M723.7,548.8L721.9,551.1L719.3,550.1L719.6,547.2L722.4,546.8L723.7,548.8M730.7,559.8L729.3,561.7L727.1,560.8L727.4,558.5L729.7,558.1L730.7,559.8M731.9,557.4L730.4,559.5L728,558.5L728.3,555.9L730.8,555.5L731.9,557.4M733.8,559.6L732.9,560.7L731.7,560.2L731.8,558.8L733.2,558.6L733.8,559.6M732.8,557.6L731,559.9L728.3,558.8L728.6,555.9L731.5,555.4L732.8,557.6M714.6,595.3L713,597.4L710.6,596.4L710.8,593.8L713.4,593.4L714.6,595.3M714.2,593.9L713.4,594.9L712.1,594.4L712.3,593.1L713.6,592.9L714.2,593.8M715.6,597.3L713.9,599.4L711.4,598.4L711.7,595.7L714.4,595.3L715.6,597.2M715.5,594.4L713.9,596.5L711.5,595.5L711.8,592.9L714.4,592.5L715.5,594.4M716.6,595.7L715.7,596.8L714.4,596.3L714.5,594.9L716,594.7L716.6,595.7M703.6,614.8L702.8,616L701.4,615.4L701.6,614L703,613.8L703.6,614.8M704.9,613.4L703.2,615.7L700.6,614.6L700.9,611.8L703.7,611.4L704.9,613.4M708.9,611.8L707.1,614.2L704.3,613.1L704.7,610.2L707.6,609.7L708.9,611.8M706.3,610.7L705.1,612.4L703.2,611.6L703.4,609.6L705.4,609.2L706.3,610.7M696.5,625.4L695.6,626.6L694.3,626L694.4,624.6L695.9,624.3L696.5,625.4M693.3,626.7L692.5,627.9L691.2,627.3L691.3,626L692.7,625.7L693.3,626.7M697.3,623L696.2,624.4L694.7,623.7L694.9,622.1L696.5,621.8L697.3,623M541.5,713.8L539.7,716.1L536.9,715L537.2,712L540.2,711.6L541.5,713.7M539.7,716.8L538.6,718.3L536.9,717.6L537.1,715.8L538.9,715.5L539.7,716.8M539.9,716L538.8,717.4L537.1,716.7L537.3,714.9L539.1,714.6L539.9,716M540.7,713.3L539.1,715.5L536.6,714.5L536.9,711.8L539.5,711.4L540.7,713.3M544.9,714.6L544.2,715.6L543,715.1L543.2,713.9L544.4,713.7L544.9,714.6" fill="none" stroke="#000" stroke-width="1" stroke-linejoin="round"/></g>
<g clip-path="url(#mapclip)" fill="none" stroke="#6A0DFF" stroke-width="1.6"><circle cx="459" cy="159" r="5"/><circle cx="578" cy="176" r="5"/><circle cx="600" cy="197" r="5"/><circle cx="734" cy="95" r="5"/><circle cx="327" cy="232" r="5"/><circle cx="259" cy="303" r="5"/><circle cx="398" cy="356" r="5"/><circle cx="487" cy="245" r="5"/><circle cx="537" cy="236" r="5"/><circle cx="605" cy="270.6" r="5"/><circle cx="523.6" cy="335" r="5"/><circle cx="261.6" cy="462" r="5"/><circle cx="331.6" cy="496.6" r="5"/><circle cx="631" cy="410.6" r="5"/><circle cx="553.6" cy="458.6" r="5"/><circle cx="604.4" cy="508.6" r="5"/><circle cx="522.4" cy="529.4" r="5"/><circle cx="671.6" cy="399.4" r="5"/><circle cx="748.6" cy="411.6" r="5"/><circle cx="719" cy="446" r="5"/><circle cx="336.6" cy="584.6" r="5"/><circle cx="213.6" cy="627" r="5"/><circle cx="387.6" cy="694.6" r="5"/><circle cx="541.6" cy="678.6" r="5"/><circle cx="714.6" cy="572.6" r="5"/></g>
<rect x="207" y="50" width="686" height="700" fill="none" stroke="#000" stroke-width="2.2"/>
<g stroke="#000" stroke-width="1" fill="none"><path d="M197,64.5H207"/><path d="M197,153.5H207"/><path d="M197,242.5H207"/><path d="M197,331.5H207"/><path d="M197,420.5H207"/><path d="M197,509.5H207"/><path d="M197,598.5H207"/><path d="M197,687.5H207"/><path d="M215.6,750V760.5"/><path d="M313.2,750V760.5"/><path d="M410.9,750V760.5"/><path d="M508.5,750V760.5"/><path d="M606.1,750V760.5"/><path d="M703.8,750V760.5"/><path d="M801.4,750V760.5"/><path d="M892.5,750V760.5"/></g>
<g fill="#FF2626" font-size="20px" stroke="#fff" stroke-width="0.2"><text x="146" y="71.5" textLength="45" lengthAdjust="spacingAndGlyphs">44°N</text><text x="146" y="160.5" textLength="45" lengthAdjust="spacingAndGlyphs">41°N</text><text x="146" y="249.5" textLength="45" lengthAdjust="spacingAndGlyphs">38°N</text><text x="146" y="338.5" textLength="45" lengthAdjust="spacingAndGlyphs">35°N</text><text x="146" y="427.5" textLength="45" lengthAdjust="spacingAndGlyphs">32°N</text><text x="146" y="516.5" textLength="45" lengthAdjust="spacingAndGlyphs">29°N</text><text x="146" y="605.5" textLength="45" lengthAdjust="spacingAndGlyphs">26°N</text><text x="146" y="694.5" textLength="45" lengthAdjust="spacingAndGlyphs">23°N</text><text x="198.6" y="783" textLength="53.5" lengthAdjust="spacingAndGlyphs">103°E</text><text x="296.2" y="783" textLength="53.5" lengthAdjust="spacingAndGlyphs">106°E</text><text x="393.9" y="783" textLength="53.5" lengthAdjust="spacingAndGlyphs">109°E</text><text x="491.5" y="783" textLength="53.5" lengthAdjust="spacingAndGlyphs">112°E</text><text x="589.1" y="783" textLength="53.5" lengthAdjust="spacingAndGlyphs">115°E</text><text x="686.8" y="783" textLength="53.5" lengthAdjust="spacingAndGlyphs">118°E</text><text x="784.4" y="783" textLength="53.5" lengthAdjust="spacingAndGlyphs">121°E</text><text x="875.5" y="783" textLength="53.5" lengthAdjust="spacingAndGlyphs">124°E</text></g>
<rect x="956.5" y="250" width="40" height="50" fill="#FFFF00" stroke="#000" stroke-width="1"/><text x="1002.3" y="284" font-size="23px" fill="#000" textLength="69.4" lengthAdjust="spacingAndGlyphs">o3_8h</text><rect x="956.5" y="300" width="40" height="50" fill="#FFFF00" stroke="#000" stroke-width="1"/><text x="1002.3" y="334" font-size="23px" fill="#000" textLength="69.4" lengthAdjust="spacingAndGlyphs">o3_1h</text><rect x="956.5" y="350" width="40" height="50" fill="#7E0023" stroke="#000" stroke-width="1"/><text x="1002.3" y="384" font-size="23px" fill="#000" textLength="64.6" lengthAdjust="spacingAndGlyphs">pm10</text><rect x="956.5" y="400" width="40" height="50" fill="#CD0074" stroke="#000" stroke-width="1"/><text x="1002.3" y="434" font-size="23px" fill="#000" textLength="71.3" lengthAdjust="spacingAndGlyphs">pm2.5</text><rect x="956.5" y="450" width="40" height="50" fill="#FF0000" stroke="#000" stroke-width="1"/><text x="1002.3" y="484" font-size="23px" fill="#000" textLength="26" lengthAdjust="spacingAndGlyphs">co</text><rect x="956.5" y="500" width="40" height="50" fill="#FF7F00" stroke="#000" stroke-width="1"/><text x="1002.3" y="534" font-size="23px" fill="#000" textLength="40" lengthAdjust="spacingAndGlyphs">no2</text><rect x="956.5" y="550" width="40" height="50" fill="#00E400" stroke="#000" stroke-width="1"/><text x="1002.3" y="584" font-size="23px" fill="#000" textLength="39" lengthAdjust="spacingAndGlyphs">so2</text>
<text x="171.3" y="33.5" font-size="21px" fill="#000" stroke="#fff" stroke-width="0.2" textLength="52.5" lengthAdjust="spacingAndGlyphs">2026</text><text x="251.3" y="33.5" font-size="21px" fill="#000" stroke="#fff" stroke-width="0.2" textLength="26.2" lengthAdjust="spacingAndGlyphs">04</text><text x="306" y="33.5" font-size="21px" fill="#000" stroke="#fff" stroke-width="0.2" textLength="26.5" lengthAdjust="spacingAndGlyphs">07</text><text x="356" y="33.5" font-size="21px" fill="#000" stroke="#fff" stroke-width="0.2" textLength="60" lengthAdjust="spacingAndGlyphs">WRF/</text><text x="417.5" y="33.5" font-size="21px" fill="#000" stroke="#fff" stroke-width="0.2" textLength="62.5" lengthAdjust="spacingAndGlyphs">cmaq</text><text x="531" y="33.5" font-size="21px" fill="#000" stroke="#fff" stroke-width="0.2" textLength="64" lengthAdjust="spacingAndGlyphs">12km</text><text x="692" y="33.5" font-size="21px" fill="#000" stroke="#fff" stroke-width="0.2" textLength="4" lengthAdjust="spacingAndGlyphs">:</text><text x="701.3" y="33.5" font-size="21px" fill="#000" stroke="#fff" stroke-width="0.2" textLength="25.3" lengthAdjust="spacingAndGlyphs">04</text><text x="756" y="33.5" font-size="21px" fill="#000" stroke="#fff" stroke-width="0.2" textLength="25.6" lengthAdjust="spacingAndGlyphs">07</text><text x="807" y="33.5" font-size="21px" fill="#000" stroke="#fff" stroke-width="0.2" textLength="24" lengthAdjust="spacingAndGlyphs">20</text><text x="871.8" y="34" font-size="24.5px" fill="#FF2626" stroke="#fff" stroke-width="0.2" textLength="111.2" lengthAdjust="spacingAndGlyphs">PRIMARY</text>
<text x="440" y="808" font-size="20px">:</text><path d="M534.6,788V818" stroke="#000" stroke-width="1"/>
<g font-size="23px" fill="#000"><text x="228" y="33.5">年</text><text x="276.5" y="33.5">月</text><text x="333.5" y="33.5">日</text><text x="482" y="33.5" textLength="46.5" lengthAdjust="spacingAndGlyphs">模式</text><text x="595.5" y="33.5" textLength="92.5" lengthAdjust="spacingAndGlyphs">预报产品</text><text x="727" y="33.5">月</text><text x="783" y="33.5">日</text><text x="835.5" y="33.5">时</text></g>
<g font-size="19.5px" fill="#000"><text x="361" y="808" textLength="79" lengthAdjust="spacingAndGlyphs">版权所有</text><text x="454" y="808" textLength="76.5" lengthAdjust="spacingAndGlyphs">南京大学</text><text x="546.5" y="808" textLength="193" lengthAdjust="spacingAndGlyphs">南京创蓝科技有限公司</text></g>

</svg>
</body></html>
